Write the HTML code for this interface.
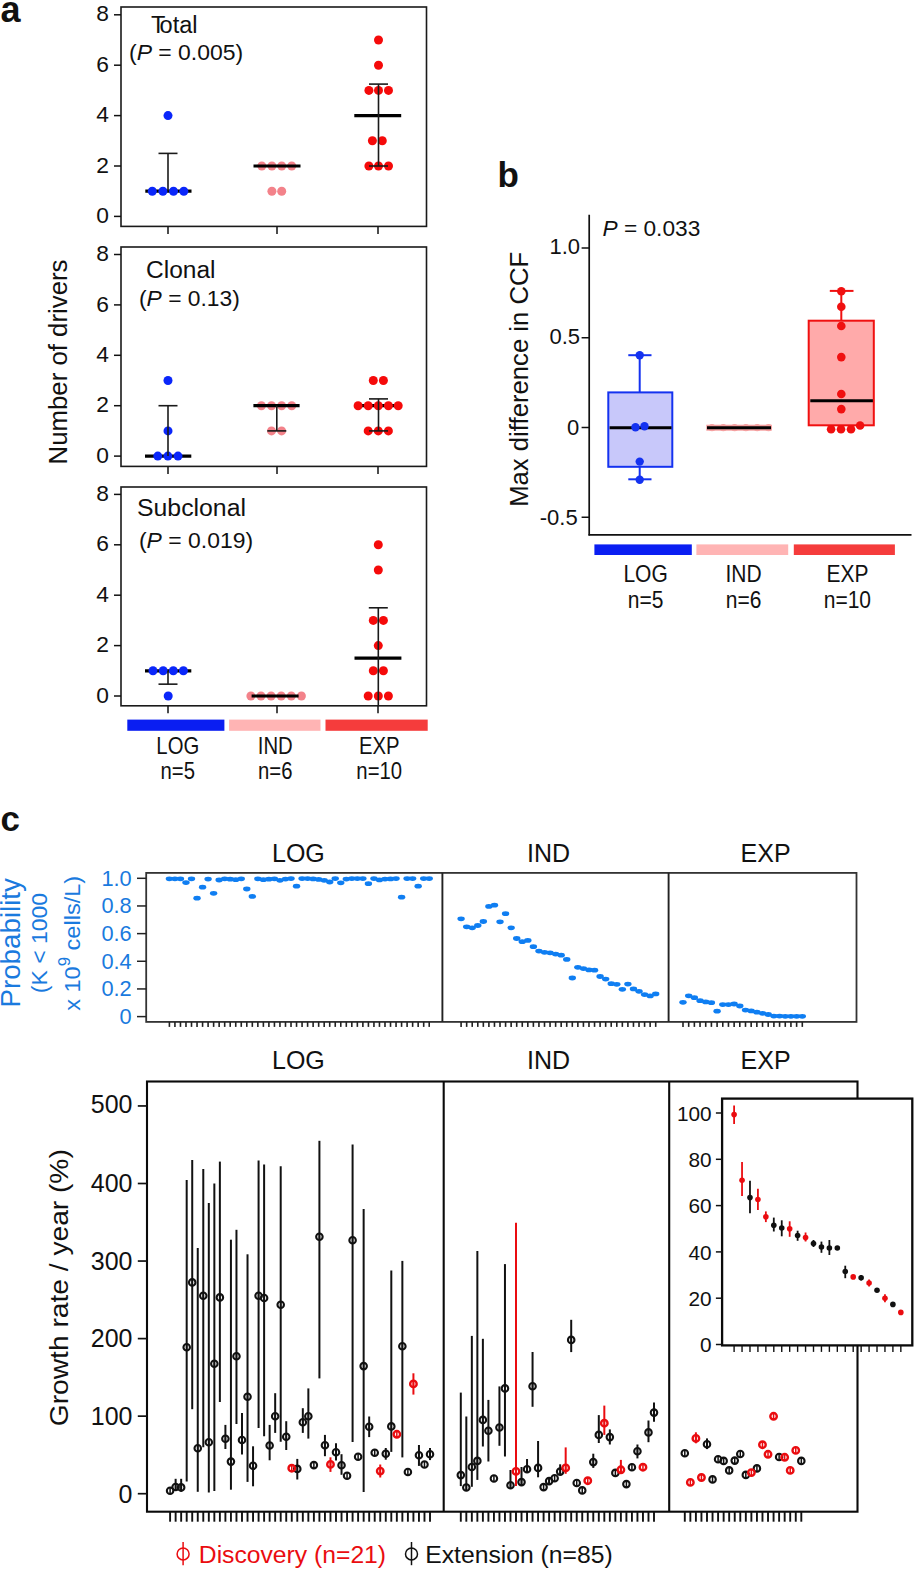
<!DOCTYPE html>
<html><head><meta charset="utf-8"><style>
html,body{margin:0;padding:0;background:#fff;overflow:hidden;width:914px;height:1569px;}
svg{display:block;}
text{font-family:"Liberation Sans", sans-serif;}
</style></head><body>
<svg width="914" height="1569" viewBox="0 0 914 1569">
<rect width="914" height="1569" fill="#fff"/>
<text x="0.5" y="21.5" font-size="36" text-anchor="start" fill="#111" font-weight="bold"  style="">a</text>
<rect x="121" y="7" width="305.5" height="219.4" fill="none" stroke="#1a1a1a" stroke-width="1.6" />
<line x1="114" y1="216.4" x2="121" y2="216.4" stroke="#111" stroke-width="1.5" />
<text x="109" y="223" font-size="22.8" text-anchor="end" fill="#111" font-weight="normal"  style="">0</text>
<line x1="114" y1="166" x2="121" y2="166" stroke="#111" stroke-width="1.5" />
<text x="109" y="172.6" font-size="22.8" text-anchor="end" fill="#111" font-weight="normal"  style="">2</text>
<line x1="114" y1="115.6" x2="121" y2="115.6" stroke="#111" stroke-width="1.5" />
<text x="109" y="122.2" font-size="22.8" text-anchor="end" fill="#111" font-weight="normal"  style="">4</text>
<line x1="114" y1="65.2" x2="121" y2="65.2" stroke="#111" stroke-width="1.5" />
<text x="109" y="71.8" font-size="22.8" text-anchor="end" fill="#111" font-weight="normal"  style="">6</text>
<line x1="114" y1="14.8" x2="121" y2="14.8" stroke="#111" stroke-width="1.5" />
<text x="109" y="21.4" font-size="22.8" text-anchor="end" fill="#111" font-weight="normal"  style="">8</text>
<line x1="168" y1="226.4" x2="168" y2="233.9" stroke="#111" stroke-width="1.5" />
<line x1="277" y1="226.4" x2="277" y2="233.9" stroke="#111" stroke-width="1.5" />
<line x1="378" y1="226.4" x2="378" y2="233.9" stroke="#111" stroke-width="1.5" />
<rect x="121" y="247" width="305.5" height="219.4" fill="none" stroke="#1a1a1a" stroke-width="1.6" />
<line x1="114" y1="456.1" x2="121" y2="456.1" stroke="#111" stroke-width="1.5" />
<text x="109" y="462.7" font-size="22.8" text-anchor="end" fill="#111" font-weight="normal"  style="">0</text>
<line x1="114" y1="405.7" x2="121" y2="405.7" stroke="#111" stroke-width="1.5" />
<text x="109" y="412.3" font-size="22.8" text-anchor="end" fill="#111" font-weight="normal"  style="">2</text>
<line x1="114" y1="355.3" x2="121" y2="355.3" stroke="#111" stroke-width="1.5" />
<text x="109" y="361.9" font-size="22.8" text-anchor="end" fill="#111" font-weight="normal"  style="">4</text>
<line x1="114" y1="304.9" x2="121" y2="304.9" stroke="#111" stroke-width="1.5" />
<text x="109" y="311.5" font-size="22.8" text-anchor="end" fill="#111" font-weight="normal"  style="">6</text>
<line x1="114" y1="254.5" x2="121" y2="254.5" stroke="#111" stroke-width="1.5" />
<text x="109" y="261.1" font-size="22.8" text-anchor="end" fill="#111" font-weight="normal"  style="">8</text>
<line x1="168" y1="466.4" x2="168" y2="473.9" stroke="#111" stroke-width="1.5" />
<line x1="277" y1="466.4" x2="277" y2="473.9" stroke="#111" stroke-width="1.5" />
<line x1="378" y1="466.4" x2="378" y2="473.9" stroke="#111" stroke-width="1.5" />
<rect x="121" y="487" width="305.5" height="218.8" fill="none" stroke="#1a1a1a" stroke-width="1.6" />
<line x1="114" y1="696" x2="121" y2="696" stroke="#111" stroke-width="1.5" />
<text x="109" y="702.6" font-size="22.8" text-anchor="end" fill="#111" font-weight="normal"  style="">0</text>
<line x1="114" y1="645.6" x2="121" y2="645.6" stroke="#111" stroke-width="1.5" />
<text x="109" y="652.2" font-size="22.8" text-anchor="end" fill="#111" font-weight="normal"  style="">2</text>
<line x1="114" y1="595.2" x2="121" y2="595.2" stroke="#111" stroke-width="1.5" />
<text x="109" y="601.8" font-size="22.8" text-anchor="end" fill="#111" font-weight="normal"  style="">4</text>
<line x1="114" y1="544.8" x2="121" y2="544.8" stroke="#111" stroke-width="1.5" />
<text x="109" y="551.4" font-size="22.8" text-anchor="end" fill="#111" font-weight="normal"  style="">6</text>
<line x1="114" y1="494.4" x2="121" y2="494.4" stroke="#111" stroke-width="1.5" />
<text x="109" y="501" font-size="22.8" text-anchor="end" fill="#111" font-weight="normal"  style="">8</text>
<line x1="168" y1="705.8" x2="168" y2="713.3" stroke="#111" stroke-width="1.5" />
<line x1="277" y1="705.8" x2="277" y2="713.3" stroke="#111" stroke-width="1.5" />
<line x1="378" y1="705.8" x2="378" y2="713.3" stroke="#111" stroke-width="1.5" />
<line x1="145.3" y1="191.2" x2="191.5" y2="191.2" stroke="#000" stroke-width="3.2" />
<circle cx="152.3" cy="191.2" r="4.5" fill="#0a26fa" stroke="none" stroke-width="0"/>
<circle cx="162.9" cy="191.2" r="4.5" fill="#0a26fa" stroke="none" stroke-width="0"/>
<circle cx="173.5" cy="191.2" r="4.5" fill="#0a26fa" stroke="none" stroke-width="0"/>
<circle cx="183.8" cy="191.2" r="4.5" fill="#0a26fa" stroke="none" stroke-width="0"/>
<circle cx="168" cy="115.6" r="4.5" fill="#0a26fa" stroke="none" stroke-width="0"/>
<line x1="168" y1="191.2" x2="168" y2="153.4" stroke="#1a1a1a" stroke-width="1.6" />
<line x1="158.5" y1="153.4" x2="177.5" y2="153.4" stroke="#1a1a1a" stroke-width="1.6" />
<circle cx="261.8" cy="166" r="4.5" fill="#f3828a" stroke="none" stroke-width="0"/>
<circle cx="271.9" cy="166" r="4.5" fill="#f3828a" stroke="none" stroke-width="0"/>
<circle cx="281.7" cy="166" r="4.5" fill="#f3828a" stroke="none" stroke-width="0"/>
<circle cx="291.7" cy="166" r="4.5" fill="#f3828a" stroke="none" stroke-width="0"/>
<circle cx="271.9" cy="191.2" r="4.5" fill="#f3828a" stroke="none" stroke-width="0"/>
<circle cx="281.7" cy="191.2" r="4.5" fill="#f3828a" stroke="none" stroke-width="0"/>
<line x1="253.5" y1="166" x2="300.5" y2="166" stroke="#000" stroke-width="3.2" />
<line x1="354.3" y1="115.6" x2="401.2" y2="115.6" stroke="#000" stroke-width="3.2" />
<circle cx="378.5" cy="40" r="4.5" fill="#f50a0a" stroke="none" stroke-width="0"/>
<circle cx="378.5" cy="65.2" r="4.5" fill="#f50a0a" stroke="none" stroke-width="0"/>
<circle cx="368.9" cy="90.4" r="4.5" fill="#f50a0a" stroke="none" stroke-width="0"/>
<circle cx="378.5" cy="90.4" r="4.5" fill="#f50a0a" stroke="none" stroke-width="0"/>
<circle cx="388.5" cy="90.4" r="4.5" fill="#f50a0a" stroke="none" stroke-width="0"/>
<circle cx="372.4" cy="140.8" r="4.5" fill="#f50a0a" stroke="none" stroke-width="0"/>
<circle cx="382.3" cy="140.8" r="4.5" fill="#f50a0a" stroke="none" stroke-width="0"/>
<circle cx="368.9" cy="166" r="4.5" fill="#f50a0a" stroke="none" stroke-width="0"/>
<circle cx="378.5" cy="166" r="4.5" fill="#f50a0a" stroke="none" stroke-width="0"/>
<circle cx="388.5" cy="166" r="4.5" fill="#f50a0a" stroke="none" stroke-width="0"/>
<line x1="378.5" y1="166" x2="378.5" y2="84.1" stroke="#1a1a1a" stroke-width="1.6" />
<line x1="369" y1="84.1" x2="388" y2="84.1" stroke="#1a1a1a" stroke-width="1.6" />
<line x1="369" y1="166" x2="388" y2="166" stroke="#1a1a1a" stroke-width="1.6" />
<line x1="145" y1="456.1" x2="191.3" y2="456.1" stroke="#000" stroke-width="3.2" />
<circle cx="168" cy="380.5" r="4.5" fill="#0a26fa" stroke="none" stroke-width="0"/>
<circle cx="168" cy="430.9" r="4.5" fill="#0a26fa" stroke="none" stroke-width="0"/>
<circle cx="157.8" cy="456.1" r="4.5" fill="#0a26fa" stroke="none" stroke-width="0"/>
<circle cx="167.9" cy="456.1" r="4.5" fill="#0a26fa" stroke="none" stroke-width="0"/>
<circle cx="178" cy="456.1" r="4.5" fill="#0a26fa" stroke="none" stroke-width="0"/>
<line x1="168" y1="456.1" x2="168" y2="405.7" stroke="#1a1a1a" stroke-width="1.6" />
<line x1="158.5" y1="405.7" x2="177.5" y2="405.7" stroke="#1a1a1a" stroke-width="1.6" />
<circle cx="261.4" cy="405.7" r="4.5" fill="#f3828a" stroke="none" stroke-width="0"/>
<circle cx="271.5" cy="405.7" r="4.5" fill="#f3828a" stroke="none" stroke-width="0"/>
<circle cx="281.6" cy="405.7" r="4.5" fill="#f3828a" stroke="none" stroke-width="0"/>
<circle cx="291.7" cy="405.7" r="4.5" fill="#f3828a" stroke="none" stroke-width="0"/>
<circle cx="271.5" cy="430.9" r="4.5" fill="#f3828a" stroke="none" stroke-width="0"/>
<circle cx="281.6" cy="430.9" r="4.5" fill="#f3828a" stroke="none" stroke-width="0"/>
<line x1="253.4" y1="405.7" x2="299.6" y2="405.7" stroke="#000" stroke-width="3.2" />
<line x1="276.8" y1="430.9" x2="276.8" y2="405.7" stroke="#1a1a1a" stroke-width="1.6" />
<line x1="267.3" y1="430.9" x2="286.3" y2="430.9" stroke="#1a1a1a" stroke-width="1.6" />
<line x1="354.5" y1="405.7" x2="401.4" y2="405.7" stroke="#000" stroke-width="3.2" />
<circle cx="373.3" cy="380.5" r="4.5" fill="#f50a0a" stroke="none" stroke-width="0"/>
<circle cx="383.4" cy="380.5" r="4.5" fill="#f50a0a" stroke="none" stroke-width="0"/>
<circle cx="358.1" cy="405.7" r="4.5" fill="#f50a0a" stroke="none" stroke-width="0"/>
<circle cx="368.2" cy="405.7" r="4.5" fill="#f50a0a" stroke="none" stroke-width="0"/>
<circle cx="378.3" cy="405.7" r="4.5" fill="#f50a0a" stroke="none" stroke-width="0"/>
<circle cx="388.4" cy="405.7" r="4.5" fill="#f50a0a" stroke="none" stroke-width="0"/>
<circle cx="398.2" cy="405.7" r="4.5" fill="#f50a0a" stroke="none" stroke-width="0"/>
<circle cx="368.2" cy="430.9" r="4.5" fill="#f50a0a" stroke="none" stroke-width="0"/>
<circle cx="378.3" cy="430.9" r="4.5" fill="#f50a0a" stroke="none" stroke-width="0"/>
<circle cx="388.4" cy="430.9" r="4.5" fill="#f50a0a" stroke="none" stroke-width="0"/>
<line x1="378.5" y1="430.9" x2="378.5" y2="398.9" stroke="#1a1a1a" stroke-width="1.6" />
<line x1="369" y1="398.9" x2="388" y2="398.9" stroke="#1a1a1a" stroke-width="1.6" />
<line x1="369" y1="430.9" x2="388" y2="430.9" stroke="#1a1a1a" stroke-width="1.6" />
<line x1="145" y1="670.8" x2="191.3" y2="670.8" stroke="#000" stroke-width="3.2" />
<circle cx="153" cy="670.8" r="4.5" fill="#0a26fa" stroke="none" stroke-width="0"/>
<circle cx="163.2" cy="670.8" r="4.5" fill="#0a26fa" stroke="none" stroke-width="0"/>
<circle cx="173.3" cy="670.8" r="4.5" fill="#0a26fa" stroke="none" stroke-width="0"/>
<circle cx="183.4" cy="670.8" r="4.5" fill="#0a26fa" stroke="none" stroke-width="0"/>
<circle cx="168.2" cy="696" r="4.5" fill="#0a26fa" stroke="none" stroke-width="0"/>
<line x1="168" y1="684.16" x2="168" y2="670.8" stroke="#1a1a1a" stroke-width="1.6" />
<line x1="158.5" y1="684.16" x2="177.5" y2="684.16" stroke="#1a1a1a" stroke-width="1.6" />
<circle cx="250.9" cy="696" r="4.5" fill="#f3828a" stroke="none" stroke-width="0"/>
<circle cx="261" cy="696" r="4.5" fill="#f3828a" stroke="none" stroke-width="0"/>
<circle cx="271.1" cy="696" r="4.5" fill="#f3828a" stroke="none" stroke-width="0"/>
<circle cx="281.2" cy="696" r="4.5" fill="#f3828a" stroke="none" stroke-width="0"/>
<circle cx="291.3" cy="696" r="4.5" fill="#f3828a" stroke="none" stroke-width="0"/>
<circle cx="301.4" cy="696" r="4.5" fill="#f3828a" stroke="none" stroke-width="0"/>
<line x1="251.6" y1="696" x2="298.6" y2="696" stroke="#000" stroke-width="3.2" />
<line x1="354.5" y1="658.2" x2="401.4" y2="658.2" stroke="#000" stroke-width="3.2" />
<circle cx="378.3" cy="544.8" r="4.5" fill="#f50a0a" stroke="none" stroke-width="0"/>
<circle cx="378.3" cy="570" r="4.5" fill="#f50a0a" stroke="none" stroke-width="0"/>
<circle cx="373.3" cy="620.4" r="4.5" fill="#f50a0a" stroke="none" stroke-width="0"/>
<circle cx="383.4" cy="620.4" r="4.5" fill="#f50a0a" stroke="none" stroke-width="0"/>
<circle cx="378.3" cy="645.6" r="4.5" fill="#f50a0a" stroke="none" stroke-width="0"/>
<circle cx="373.3" cy="670.8" r="4.5" fill="#f50a0a" stroke="none" stroke-width="0"/>
<circle cx="383.4" cy="670.8" r="4.5" fill="#f50a0a" stroke="none" stroke-width="0"/>
<circle cx="368.2" cy="696" r="4.5" fill="#f50a0a" stroke="none" stroke-width="0"/>
<circle cx="378.3" cy="696" r="4.5" fill="#f50a0a" stroke="none" stroke-width="0"/>
<circle cx="388.4" cy="696" r="4.5" fill="#f50a0a" stroke="none" stroke-width="0"/>
<line x1="378.3" y1="705.8" x2="378.3" y2="607.8" stroke="#1a1a1a" stroke-width="1.6" />
<line x1="368.8" y1="607.8" x2="387.8" y2="607.8" stroke="#1a1a1a" stroke-width="1.6" />
<rect x="127.3" y="719.6" width="97.1" height="11.2" fill="#0a1ef2" stroke="none" stroke-width="0" />
<rect x="229.1" y="719.6" width="91.4" height="11.2" fill="#ffb4b4" stroke="none" stroke-width="0" />
<rect x="325.5" y="719.6" width="102.2" height="11.2" fill="#f53c3c" stroke="none" stroke-width="0" />
<text x="177.8" y="753.8" font-size="23.2" text-anchor="middle" fill="#111" font-weight="normal" transform="translate(177.8,0) scale(0.875,1) translate(-177.8,0)" style="">LOG</text>
<text x="177.8" y="779.4" font-size="23.2" text-anchor="middle" fill="#111" font-weight="normal" transform="translate(177.8,0) scale(0.875,1) translate(-177.8,0)" style="">n=5</text>
<text x="275.3" y="753.8" font-size="23.2" text-anchor="middle" fill="#111" font-weight="normal" transform="translate(275.3,0) scale(0.875,1) translate(-275.3,0)" style="">IND</text>
<text x="275.3" y="779.4" font-size="23.2" text-anchor="middle" fill="#111" font-weight="normal" transform="translate(275.3,0) scale(0.875,1) translate(-275.3,0)" style="">n=6</text>
<text x="379.2" y="753.8" font-size="23.2" text-anchor="middle" fill="#111" font-weight="normal" transform="translate(379.2,0) scale(0.875,1) translate(-379.2,0)" style="">EXP</text>
<text x="379.2" y="779.4" font-size="23.2" text-anchor="middle" fill="#111" font-weight="normal" transform="translate(379.2,0) scale(0.875,1) translate(-379.2,0)" style="">n=10</text>
<text x="151" y="33" font-size="23.5" text-anchor="start" fill="#111" font-weight="normal" textLength="46.6" lengthAdjust="spacingAndGlyphs"  style="">T<tspan dx="-3.2">otal</tspan></text>
<text x="129" y="60" font-size="22" text-anchor="start" fill="#111" font-weight="normal" textLength="114.2" lengthAdjust="spacingAndGlyphs"  style="">(<tspan font-style="italic">P</tspan> = 0.005)</text>
<text x="146" y="278" font-size="23" text-anchor="start" fill="#111" font-weight="normal" textLength="69.5" lengthAdjust="spacingAndGlyphs"  style="">Clonal</text>
<text x="139" y="305.5" font-size="22" text-anchor="start" fill="#111" font-weight="normal" textLength="100.8" lengthAdjust="spacingAndGlyphs"  style="">(<tspan font-style="italic">P</tspan> = 0.13)</text>
<text x="137" y="516.3" font-size="23" text-anchor="start" fill="#111" font-weight="normal" textLength="109" lengthAdjust="spacingAndGlyphs"  style="">Subclonal</text>
<text x="139" y="548" font-size="22" text-anchor="start" fill="#111" font-weight="normal" textLength="114.1" lengthAdjust="spacingAndGlyphs"  style="">(<tspan font-style="italic">P</tspan> = 0.019)</text>
<text transform="translate(66.8,362) rotate(-90)" font-size="25.8" text-anchor="middle" fill="#111">Number of drivers</text>
<text x="497.5" y="186.8" font-size="35" text-anchor="start" fill="#111" font-weight="bold"  style="">b</text>
<line x1="589.2" y1="214.7" x2="589.2" y2="535.6" stroke="#111" stroke-width="1.7" />
<line x1="588.5" y1="534.8" x2="911.5" y2="534.8" stroke="#111" stroke-width="1.7" />
<line x1="581.6" y1="248" x2="589.2" y2="248" stroke="#111" stroke-width="1.5" />
<text x="580" y="254.2" font-size="22" text-anchor="end" fill="#111" font-weight="normal"  style="">1.0</text>
<line x1="581.6" y1="337.75" x2="589.2" y2="337.75" stroke="#111" stroke-width="1.5" />
<text x="580" y="344" font-size="22" text-anchor="end" fill="#111" font-weight="normal"  style="">0.5</text>
<line x1="581.6" y1="427.5" x2="589.2" y2="427.5" stroke="#111" stroke-width="1.5" />
<text x="579.3" y="434.5" font-size="22" text-anchor="end" fill="#111" font-weight="normal"  style="">0</text>
<line x1="581.6" y1="517.25" x2="589.2" y2="517.25" stroke="#111" stroke-width="1.5" />
<text x="577.7" y="525.4" font-size="22" text-anchor="end" fill="#111" font-weight="normal"  style="">-0.5</text>
<text x="602.5" y="236" font-size="22.7" text-anchor="start" fill="#111" font-weight="normal"  style=""><tspan font-style="italic">P</tspan> = 0.033</text>
<text transform="translate(527.5,379.3) rotate(-90)" font-size="25.7" text-anchor="middle" fill="#111">Max difference in CCF</text>
<line x1="639.7" y1="392.4" x2="639.7" y2="355.2" stroke="#1432f0" stroke-width="2" />
<line x1="628.3" y1="355.2" x2="651.5" y2="355.2" stroke="#1432f0" stroke-width="2" />
<line x1="639.7" y1="466.8" x2="639.7" y2="479.3" stroke="#1432f0" stroke-width="2" />
<line x1="628.3" y1="479.3" x2="651.5" y2="479.3" stroke="#1432f0" stroke-width="2" />
<rect x="608.3" y="392.4" width="64" height="74.4" fill="#c8c8fa" stroke="#1432f0" stroke-width="2" />
<line x1="609.6" y1="427.7" x2="671.5" y2="427.7" stroke="#000" stroke-width="3" />
<circle cx="639.7" cy="355.2" r="4.2" fill="#1432f0" stroke="none" stroke-width="0"/>
<circle cx="635.5" cy="427.3" r="4.2" fill="#1432f0" stroke="none" stroke-width="0"/>
<circle cx="644.5" cy="426.3" r="4.2" fill="#1432f0" stroke="none" stroke-width="0"/>
<circle cx="639.7" cy="461.6" r="4.2" fill="#1432f0" stroke="none" stroke-width="0"/>
<circle cx="639.7" cy="479.7" r="4.2" fill="#1432f0" stroke="none" stroke-width="0"/>
<circle cx="712" cy="427.7" r="3.6" fill="#f5a0a0" stroke="none" stroke-width="0"/>
<circle cx="723.3" cy="427.7" r="3.6" fill="#f5a0a0" stroke="none" stroke-width="0"/>
<circle cx="734.6" cy="427.7" r="3.6" fill="#f5a0a0" stroke="none" stroke-width="0"/>
<circle cx="745.9" cy="427.7" r="3.6" fill="#f5a0a0" stroke="none" stroke-width="0"/>
<circle cx="757.2" cy="427.7" r="3.6" fill="#f5a0a0" stroke="none" stroke-width="0"/>
<circle cx="768.5" cy="427.7" r="3.6" fill="#f5a0a0" stroke="none" stroke-width="0"/>
<rect x="706.3" y="424.7" width="65.4" height="6" fill="#f5a0a0" stroke="none" stroke-width="0" />
<line x1="707" y1="427.7" x2="771" y2="427.7" stroke="#000" stroke-width="3" />
<line x1="841.3" y1="320.7" x2="841.3" y2="290.9" stroke="#f01010" stroke-width="2" />
<line x1="829.8" y1="290.9" x2="853.5" y2="290.9" stroke="#f01010" stroke-width="2" />
<rect x="808.7" y="320.7" width="65.1" height="104.6" fill="#ffaaaa" stroke="#f01010" stroke-width="2" />
<line x1="810.3" y1="400.7" x2="872.9" y2="400.7" stroke="#000" stroke-width="3" />
<circle cx="841.3" cy="291.2" r="4.3" fill="#f01010" stroke="none" stroke-width="0"/>
<circle cx="841.3" cy="306.8" r="4.3" fill="#f01010" stroke="none" stroke-width="0"/>
<circle cx="841.3" cy="326" r="4.3" fill="#f01010" stroke="none" stroke-width="0"/>
<circle cx="841.3" cy="357.1" r="4.3" fill="#f01010" stroke="none" stroke-width="0"/>
<circle cx="841.3" cy="394" r="4.3" fill="#f01010" stroke="none" stroke-width="0"/>
<circle cx="841.3" cy="409.1" r="4.3" fill="#f01010" stroke="none" stroke-width="0"/>
<circle cx="831.1" cy="429.3" r="4.3" fill="#f01010" stroke="none" stroke-width="0"/>
<circle cx="841" cy="429.3" r="4.3" fill="#f01010" stroke="none" stroke-width="0"/>
<circle cx="851" cy="429.3" r="4.3" fill="#f01010" stroke="none" stroke-width="0"/>
<circle cx="860.1" cy="425.5" r="4.3" fill="#f01010" stroke="none" stroke-width="0"/>
<rect x="594.4" y="544.4" width="97.4" height="10.6" fill="#0a1ef2" stroke="none" stroke-width="0" />
<rect x="696.4" y="544.4" width="91.8" height="10.6" fill="#ffb4b4" stroke="none" stroke-width="0" />
<rect x="793.8" y="544.4" width="101.1" height="10.6" fill="#f53c3c" stroke="none" stroke-width="0" />
<text x="645.6" y="582.3" font-size="24" text-anchor="middle" fill="#111" font-weight="normal" transform="translate(645.6,0) scale(0.875,1) translate(-645.6,0)" style="">LOG</text>
<text x="645.6" y="608.5" font-size="24" text-anchor="middle" fill="#111" font-weight="normal" transform="translate(645.6,0) scale(0.875,1) translate(-645.6,0)" style="">n=5</text>
<text x="743.6" y="582.3" font-size="24" text-anchor="middle" fill="#111" font-weight="normal" transform="translate(743.6,0) scale(0.875,1) translate(-743.6,0)" style="">IND</text>
<text x="743.6" y="608.5" font-size="24" text-anchor="middle" fill="#111" font-weight="normal" transform="translate(743.6,0) scale(0.875,1) translate(-743.6,0)" style="">n=6</text>
<text x="847.4" y="582.3" font-size="24" text-anchor="middle" fill="#111" font-weight="normal" transform="translate(847.4,0) scale(0.875,1) translate(-847.4,0)" style="">EXP</text>
<text x="847.4" y="608.5" font-size="24" text-anchor="middle" fill="#111" font-weight="normal" transform="translate(847.4,0) scale(0.875,1) translate(-847.4,0)" style="">n=10</text>
<text x="0.5" y="830.6" font-size="35" text-anchor="start" fill="#111" font-weight="bold"  style="">c</text>
<rect x="146.2" y="872.9" width="710.3" height="149" fill="none" stroke="#333" stroke-width="1.8" />
<line x1="442.4" y1="872.9" x2="442.4" y2="1021.9" stroke="#222" stroke-width="1.9" />
<line x1="668.6" y1="872.9" x2="668.6" y2="1021.9" stroke="#222" stroke-width="1.9" />
<line x1="137" y1="878.3" x2="146.2" y2="878.3" stroke="#222" stroke-width="1.5" />
<text x="131.7" y="885.6" font-size="21.8" text-anchor="end" fill="#1a7ade" font-weight="normal"  style="">1.0</text>
<line x1="137" y1="905.96" x2="146.2" y2="905.96" stroke="#222" stroke-width="1.5" />
<text x="131.7" y="913.26" font-size="21.8" text-anchor="end" fill="#1a7ade" font-weight="normal"  style="">0.8</text>
<line x1="137" y1="933.62" x2="146.2" y2="933.62" stroke="#222" stroke-width="1.5" />
<text x="131.7" y="940.92" font-size="21.8" text-anchor="end" fill="#1a7ade" font-weight="normal"  style="">0.6</text>
<line x1="137" y1="961.28" x2="146.2" y2="961.28" stroke="#222" stroke-width="1.5" />
<text x="131.7" y="968.58" font-size="21.8" text-anchor="end" fill="#1a7ade" font-weight="normal"  style="">0.4</text>
<line x1="137" y1="988.94" x2="146.2" y2="988.94" stroke="#222" stroke-width="1.5" />
<text x="131.7" y="996.24" font-size="21.8" text-anchor="end" fill="#1a7ade" font-weight="normal"  style="">0.2</text>
<line x1="137" y1="1016.6" x2="146.2" y2="1016.6" stroke="#222" stroke-width="1.5" />
<text x="131.7" y="1023.9" font-size="21.8" text-anchor="end" fill="#1a7ade" font-weight="normal"  style="">0</text>
<text x="298.4" y="861.8" font-size="25" text-anchor="middle" fill="#111" font-weight="normal"  style="">LOG</text>
<text x="548.6" y="861.8" font-size="25" text-anchor="middle" fill="#111" font-weight="normal"  style="">IND</text>
<text x="765.6" y="861.8" font-size="25" text-anchor="middle" fill="#111" font-weight="normal"  style="">EXP</text>
<text transform="translate(20.2,942.8) rotate(-90)" font-size="27.5" text-anchor="middle" fill="#1a7ade" textLength="129.5" lengthAdjust="spacingAndGlyphs">Probability</text>
<text transform="translate(46.8,943) rotate(-90)" font-size="21.5" text-anchor="middle" fill="#1a7ade" textLength="100.3" lengthAdjust="spacingAndGlyphs">(K &lt; 1000</text>
<text transform="translate(79.5,943.3) rotate(-90)" font-size="22.5" text-anchor="middle" fill="#1a7ade" textLength="135" lengthAdjust="spacingAndGlyphs">x 10<tspan font-size="16" dy="-9.6">9</tspan><tspan dy="9.6"> cells/L)</tspan></text>
<ellipse cx="169.4" cy="878.8" rx="3.7" ry="2.4" fill="#0f7ef2"/>
<ellipse cx="174.93" cy="878.8" rx="3.7" ry="2.4" fill="#0f7ef2"/>
<ellipse cx="180.46" cy="878.8" rx="3.7" ry="2.4" fill="#0f7ef2"/>
<ellipse cx="185.98" cy="882.6" rx="3.7" ry="2.4" fill="#0f7ef2"/>
<ellipse cx="191.51" cy="878.8" rx="3.7" ry="2.4" fill="#0f7ef2"/>
<ellipse cx="197.04" cy="898.2" rx="3.7" ry="2.4" fill="#0f7ef2"/>
<ellipse cx="202.57" cy="887.2" rx="3.7" ry="2.4" fill="#0f7ef2"/>
<ellipse cx="208.1" cy="879.1" rx="3.7" ry="2.4" fill="#0f7ef2"/>
<ellipse cx="213.62" cy="893.3" rx="3.7" ry="2.4" fill="#0f7ef2"/>
<ellipse cx="219.15" cy="880" rx="3.7" ry="2.4" fill="#0f7ef2"/>
<ellipse cx="224.68" cy="878.8" rx="3.7" ry="2.4" fill="#0f7ef2"/>
<ellipse cx="230.21" cy="879.2" rx="3.7" ry="2.4" fill="#0f7ef2"/>
<ellipse cx="235.74" cy="879.7" rx="3.7" ry="2.4" fill="#0f7ef2"/>
<ellipse cx="241.26" cy="878.8" rx="3.7" ry="2.4" fill="#0f7ef2"/>
<ellipse cx="246.79" cy="889" rx="3.7" ry="2.4" fill="#0f7ef2"/>
<ellipse cx="252.32" cy="896.4" rx="3.7" ry="2.4" fill="#0f7ef2"/>
<ellipse cx="257.85" cy="878.8" rx="3.7" ry="2.4" fill="#0f7ef2"/>
<ellipse cx="263.38" cy="879.7" rx="3.7" ry="2.4" fill="#0f7ef2"/>
<ellipse cx="268.9" cy="879.2" rx="3.7" ry="2.4" fill="#0f7ef2"/>
<ellipse cx="274.43" cy="878.8" rx="3.7" ry="2.4" fill="#0f7ef2"/>
<ellipse cx="279.96" cy="880.3" rx="3.7" ry="2.4" fill="#0f7ef2"/>
<ellipse cx="285.49" cy="879.1" rx="3.7" ry="2.4" fill="#0f7ef2"/>
<ellipse cx="291.02" cy="878.6" rx="3.7" ry="2.4" fill="#0f7ef2"/>
<ellipse cx="296.54" cy="886.2" rx="3.7" ry="2.4" fill="#0f7ef2"/>
<ellipse cx="302.07" cy="878.6" rx="3.7" ry="2.4" fill="#0f7ef2"/>
<ellipse cx="307.6" cy="878.6" rx="3.7" ry="2.4" fill="#0f7ef2"/>
<ellipse cx="313.13" cy="878.9" rx="3.7" ry="2.4" fill="#0f7ef2"/>
<ellipse cx="318.66" cy="879.4" rx="3.7" ry="2.4" fill="#0f7ef2"/>
<ellipse cx="324.18" cy="880.3" rx="3.7" ry="2.4" fill="#0f7ef2"/>
<ellipse cx="329.71" cy="882" rx="3.7" ry="2.4" fill="#0f7ef2"/>
<ellipse cx="335.24" cy="878.6" rx="3.7" ry="2.4" fill="#0f7ef2"/>
<ellipse cx="340.77" cy="882.8" rx="3.7" ry="2.4" fill="#0f7ef2"/>
<ellipse cx="346.3" cy="879.1" rx="3.7" ry="2.4" fill="#0f7ef2"/>
<ellipse cx="351.82" cy="878.6" rx="3.7" ry="2.4" fill="#0f7ef2"/>
<ellipse cx="357.35" cy="878.6" rx="3.7" ry="2.4" fill="#0f7ef2"/>
<ellipse cx="362.88" cy="878.6" rx="3.7" ry="2.4" fill="#0f7ef2"/>
<ellipse cx="368.41" cy="883.7" rx="3.7" ry="2.4" fill="#0f7ef2"/>
<ellipse cx="373.94" cy="878.6" rx="3.7" ry="2.4" fill="#0f7ef2"/>
<ellipse cx="379.46" cy="879.9" rx="3.7" ry="2.4" fill="#0f7ef2"/>
<ellipse cx="384.99" cy="879.1" rx="3.7" ry="2.4" fill="#0f7ef2"/>
<ellipse cx="390.52" cy="878.9" rx="3.7" ry="2.4" fill="#0f7ef2"/>
<ellipse cx="396.05" cy="878.6" rx="3.7" ry="2.4" fill="#0f7ef2"/>
<ellipse cx="401.58" cy="897.2" rx="3.7" ry="2.4" fill="#0f7ef2"/>
<ellipse cx="407.1" cy="878.6" rx="3.7" ry="2.4" fill="#0f7ef2"/>
<ellipse cx="412.63" cy="878.6" rx="3.7" ry="2.4" fill="#0f7ef2"/>
<ellipse cx="418.16" cy="886.2" rx="3.7" ry="2.4" fill="#0f7ef2"/>
<ellipse cx="423.69" cy="878.6" rx="3.7" ry="2.4" fill="#0f7ef2"/>
<ellipse cx="429.22" cy="878.6" rx="3.7" ry="2.4" fill="#0f7ef2"/>
<line x1="169.4" y1="1021.9" x2="169.4" y2="1026.9" stroke="#222" stroke-width="1.6" />
<line x1="174.93" y1="1021.9" x2="174.93" y2="1026.9" stroke="#222" stroke-width="1.6" />
<line x1="180.46" y1="1021.9" x2="180.46" y2="1026.9" stroke="#222" stroke-width="1.6" />
<line x1="185.98" y1="1021.9" x2="185.98" y2="1026.9" stroke="#222" stroke-width="1.6" />
<line x1="191.51" y1="1021.9" x2="191.51" y2="1026.9" stroke="#222" stroke-width="1.6" />
<line x1="197.04" y1="1021.9" x2="197.04" y2="1026.9" stroke="#222" stroke-width="1.6" />
<line x1="202.57" y1="1021.9" x2="202.57" y2="1026.9" stroke="#222" stroke-width="1.6" />
<line x1="208.1" y1="1021.9" x2="208.1" y2="1026.9" stroke="#222" stroke-width="1.6" />
<line x1="213.62" y1="1021.9" x2="213.62" y2="1026.9" stroke="#222" stroke-width="1.6" />
<line x1="219.15" y1="1021.9" x2="219.15" y2="1026.9" stroke="#222" stroke-width="1.6" />
<line x1="224.68" y1="1021.9" x2="224.68" y2="1026.9" stroke="#222" stroke-width="1.6" />
<line x1="230.21" y1="1021.9" x2="230.21" y2="1026.9" stroke="#222" stroke-width="1.6" />
<line x1="235.74" y1="1021.9" x2="235.74" y2="1026.9" stroke="#222" stroke-width="1.6" />
<line x1="241.26" y1="1021.9" x2="241.26" y2="1026.9" stroke="#222" stroke-width="1.6" />
<line x1="246.79" y1="1021.9" x2="246.79" y2="1026.9" stroke="#222" stroke-width="1.6" />
<line x1="252.32" y1="1021.9" x2="252.32" y2="1026.9" stroke="#222" stroke-width="1.6" />
<line x1="257.85" y1="1021.9" x2="257.85" y2="1026.9" stroke="#222" stroke-width="1.6" />
<line x1="263.38" y1="1021.9" x2="263.38" y2="1026.9" stroke="#222" stroke-width="1.6" />
<line x1="268.9" y1="1021.9" x2="268.9" y2="1026.9" stroke="#222" stroke-width="1.6" />
<line x1="274.43" y1="1021.9" x2="274.43" y2="1026.9" stroke="#222" stroke-width="1.6" />
<line x1="279.96" y1="1021.9" x2="279.96" y2="1026.9" stroke="#222" stroke-width="1.6" />
<line x1="285.49" y1="1021.9" x2="285.49" y2="1026.9" stroke="#222" stroke-width="1.6" />
<line x1="291.02" y1="1021.9" x2="291.02" y2="1026.9" stroke="#222" stroke-width="1.6" />
<line x1="296.54" y1="1021.9" x2="296.54" y2="1026.9" stroke="#222" stroke-width="1.6" />
<line x1="302.07" y1="1021.9" x2="302.07" y2="1026.9" stroke="#222" stroke-width="1.6" />
<line x1="307.6" y1="1021.9" x2="307.6" y2="1026.9" stroke="#222" stroke-width="1.6" />
<line x1="313.13" y1="1021.9" x2="313.13" y2="1026.9" stroke="#222" stroke-width="1.6" />
<line x1="318.66" y1="1021.9" x2="318.66" y2="1026.9" stroke="#222" stroke-width="1.6" />
<line x1="324.18" y1="1021.9" x2="324.18" y2="1026.9" stroke="#222" stroke-width="1.6" />
<line x1="329.71" y1="1021.9" x2="329.71" y2="1026.9" stroke="#222" stroke-width="1.6" />
<line x1="335.24" y1="1021.9" x2="335.24" y2="1026.9" stroke="#222" stroke-width="1.6" />
<line x1="340.77" y1="1021.9" x2="340.77" y2="1026.9" stroke="#222" stroke-width="1.6" />
<line x1="346.3" y1="1021.9" x2="346.3" y2="1026.9" stroke="#222" stroke-width="1.6" />
<line x1="351.82" y1="1021.9" x2="351.82" y2="1026.9" stroke="#222" stroke-width="1.6" />
<line x1="357.35" y1="1021.9" x2="357.35" y2="1026.9" stroke="#222" stroke-width="1.6" />
<line x1="362.88" y1="1021.9" x2="362.88" y2="1026.9" stroke="#222" stroke-width="1.6" />
<line x1="368.41" y1="1021.9" x2="368.41" y2="1026.9" stroke="#222" stroke-width="1.6" />
<line x1="373.94" y1="1021.9" x2="373.94" y2="1026.9" stroke="#222" stroke-width="1.6" />
<line x1="379.46" y1="1021.9" x2="379.46" y2="1026.9" stroke="#222" stroke-width="1.6" />
<line x1="384.99" y1="1021.9" x2="384.99" y2="1026.9" stroke="#222" stroke-width="1.6" />
<line x1="390.52" y1="1021.9" x2="390.52" y2="1026.9" stroke="#222" stroke-width="1.6" />
<line x1="396.05" y1="1021.9" x2="396.05" y2="1026.9" stroke="#222" stroke-width="1.6" />
<line x1="401.58" y1="1021.9" x2="401.58" y2="1026.9" stroke="#222" stroke-width="1.6" />
<line x1="407.1" y1="1021.9" x2="407.1" y2="1026.9" stroke="#222" stroke-width="1.6" />
<line x1="412.63" y1="1021.9" x2="412.63" y2="1026.9" stroke="#222" stroke-width="1.6" />
<line x1="418.16" y1="1021.9" x2="418.16" y2="1026.9" stroke="#222" stroke-width="1.6" />
<line x1="423.69" y1="1021.9" x2="423.69" y2="1026.9" stroke="#222" stroke-width="1.6" />
<line x1="429.22" y1="1021.9" x2="429.22" y2="1026.9" stroke="#222" stroke-width="1.6" />
<ellipse cx="461.1" cy="918.8" rx="3.7" ry="2.4" fill="#0f7ef2"/>
<ellipse cx="466.66" cy="926.8" rx="3.7" ry="2.4" fill="#0f7ef2"/>
<ellipse cx="472.22" cy="927.8" rx="3.7" ry="2.4" fill="#0f7ef2"/>
<ellipse cx="477.78" cy="925.5" rx="3.7" ry="2.4" fill="#0f7ef2"/>
<ellipse cx="483.34" cy="921.5" rx="3.7" ry="2.4" fill="#0f7ef2"/>
<ellipse cx="488.9" cy="906.4" rx="3.7" ry="2.4" fill="#0f7ef2"/>
<ellipse cx="494.46" cy="905.2" rx="3.7" ry="2.4" fill="#0f7ef2"/>
<ellipse cx="500.02" cy="921.8" rx="3.7" ry="2.4" fill="#0f7ef2"/>
<ellipse cx="505.58" cy="913.7" rx="3.7" ry="2.4" fill="#0f7ef2"/>
<ellipse cx="511.14" cy="927.8" rx="3.7" ry="2.4" fill="#0f7ef2"/>
<ellipse cx="516.7" cy="938.5" rx="3.7" ry="2.4" fill="#0f7ef2"/>
<ellipse cx="522.26" cy="941.7" rx="3.7" ry="2.4" fill="#0f7ef2"/>
<ellipse cx="527.82" cy="940.4" rx="3.7" ry="2.4" fill="#0f7ef2"/>
<ellipse cx="533.38" cy="946.7" rx="3.7" ry="2.4" fill="#0f7ef2"/>
<ellipse cx="538.94" cy="951.1" rx="3.7" ry="2.4" fill="#0f7ef2"/>
<ellipse cx="544.5" cy="952.3" rx="3.7" ry="2.4" fill="#0f7ef2"/>
<ellipse cx="550.06" cy="952.8" rx="3.7" ry="2.4" fill="#0f7ef2"/>
<ellipse cx="555.62" cy="954.1" rx="3.7" ry="2.4" fill="#0f7ef2"/>
<ellipse cx="561.18" cy="955.2" rx="3.7" ry="2.4" fill="#0f7ef2"/>
<ellipse cx="566.74" cy="959.4" rx="3.7" ry="2.4" fill="#0f7ef2"/>
<ellipse cx="572.3" cy="978" rx="3.7" ry="2.4" fill="#0f7ef2"/>
<ellipse cx="577.86" cy="967.3" rx="3.7" ry="2.4" fill="#0f7ef2"/>
<ellipse cx="583.42" cy="968.6" rx="3.7" ry="2.4" fill="#0f7ef2"/>
<ellipse cx="588.98" cy="969.9" rx="3.7" ry="2.4" fill="#0f7ef2"/>
<ellipse cx="594.54" cy="970.2" rx="3.7" ry="2.4" fill="#0f7ef2"/>
<ellipse cx="600.1" cy="976.5" rx="3.7" ry="2.4" fill="#0f7ef2"/>
<ellipse cx="605.66" cy="979.1" rx="3.7" ry="2.4" fill="#0f7ef2"/>
<ellipse cx="611.22" cy="983.7" rx="3.7" ry="2.4" fill="#0f7ef2"/>
<ellipse cx="616.78" cy="984.3" rx="3.7" ry="2.4" fill="#0f7ef2"/>
<ellipse cx="622.34" cy="989.3" rx="3.7" ry="2.4" fill="#0f7ef2"/>
<ellipse cx="627.9" cy="984.1" rx="3.7" ry="2.4" fill="#0f7ef2"/>
<ellipse cx="633.46" cy="988.9" rx="3.7" ry="2.4" fill="#0f7ef2"/>
<ellipse cx="639.02" cy="991.3" rx="3.7" ry="2.4" fill="#0f7ef2"/>
<ellipse cx="644.58" cy="994.6" rx="3.7" ry="2.4" fill="#0f7ef2"/>
<ellipse cx="650.14" cy="995.9" rx="3.7" ry="2.4" fill="#0f7ef2"/>
<ellipse cx="655.7" cy="993.9" rx="3.7" ry="2.4" fill="#0f7ef2"/>
<line x1="461.1" y1="1021.9" x2="461.1" y2="1026.9" stroke="#222" stroke-width="1.6" />
<line x1="466.66" y1="1021.9" x2="466.66" y2="1026.9" stroke="#222" stroke-width="1.6" />
<line x1="472.22" y1="1021.9" x2="472.22" y2="1026.9" stroke="#222" stroke-width="1.6" />
<line x1="477.78" y1="1021.9" x2="477.78" y2="1026.9" stroke="#222" stroke-width="1.6" />
<line x1="483.34" y1="1021.9" x2="483.34" y2="1026.9" stroke="#222" stroke-width="1.6" />
<line x1="488.9" y1="1021.9" x2="488.9" y2="1026.9" stroke="#222" stroke-width="1.6" />
<line x1="494.46" y1="1021.9" x2="494.46" y2="1026.9" stroke="#222" stroke-width="1.6" />
<line x1="500.02" y1="1021.9" x2="500.02" y2="1026.9" stroke="#222" stroke-width="1.6" />
<line x1="505.58" y1="1021.9" x2="505.58" y2="1026.9" stroke="#222" stroke-width="1.6" />
<line x1="511.14" y1="1021.9" x2="511.14" y2="1026.9" stroke="#222" stroke-width="1.6" />
<line x1="516.7" y1="1021.9" x2="516.7" y2="1026.9" stroke="#222" stroke-width="1.6" />
<line x1="522.26" y1="1021.9" x2="522.26" y2="1026.9" stroke="#222" stroke-width="1.6" />
<line x1="527.82" y1="1021.9" x2="527.82" y2="1026.9" stroke="#222" stroke-width="1.6" />
<line x1="533.38" y1="1021.9" x2="533.38" y2="1026.9" stroke="#222" stroke-width="1.6" />
<line x1="538.94" y1="1021.9" x2="538.94" y2="1026.9" stroke="#222" stroke-width="1.6" />
<line x1="544.5" y1="1021.9" x2="544.5" y2="1026.9" stroke="#222" stroke-width="1.6" />
<line x1="550.06" y1="1021.9" x2="550.06" y2="1026.9" stroke="#222" stroke-width="1.6" />
<line x1="555.62" y1="1021.9" x2="555.62" y2="1026.9" stroke="#222" stroke-width="1.6" />
<line x1="561.18" y1="1021.9" x2="561.18" y2="1026.9" stroke="#222" stroke-width="1.6" />
<line x1="566.74" y1="1021.9" x2="566.74" y2="1026.9" stroke="#222" stroke-width="1.6" />
<line x1="572.3" y1="1021.9" x2="572.3" y2="1026.9" stroke="#222" stroke-width="1.6" />
<line x1="577.86" y1="1021.9" x2="577.86" y2="1026.9" stroke="#222" stroke-width="1.6" />
<line x1="583.42" y1="1021.9" x2="583.42" y2="1026.9" stroke="#222" stroke-width="1.6" />
<line x1="588.98" y1="1021.9" x2="588.98" y2="1026.9" stroke="#222" stroke-width="1.6" />
<line x1="594.54" y1="1021.9" x2="594.54" y2="1026.9" stroke="#222" stroke-width="1.6" />
<line x1="600.1" y1="1021.9" x2="600.1" y2="1026.9" stroke="#222" stroke-width="1.6" />
<line x1="605.66" y1="1021.9" x2="605.66" y2="1026.9" stroke="#222" stroke-width="1.6" />
<line x1="611.22" y1="1021.9" x2="611.22" y2="1026.9" stroke="#222" stroke-width="1.6" />
<line x1="616.78" y1="1021.9" x2="616.78" y2="1026.9" stroke="#222" stroke-width="1.6" />
<line x1="622.34" y1="1021.9" x2="622.34" y2="1026.9" stroke="#222" stroke-width="1.6" />
<line x1="627.9" y1="1021.9" x2="627.9" y2="1026.9" stroke="#222" stroke-width="1.6" />
<line x1="633.46" y1="1021.9" x2="633.46" y2="1026.9" stroke="#222" stroke-width="1.6" />
<line x1="639.02" y1="1021.9" x2="639.02" y2="1026.9" stroke="#222" stroke-width="1.6" />
<line x1="644.58" y1="1021.9" x2="644.58" y2="1026.9" stroke="#222" stroke-width="1.6" />
<line x1="650.14" y1="1021.9" x2="650.14" y2="1026.9" stroke="#222" stroke-width="1.6" />
<line x1="655.7" y1="1021.9" x2="655.7" y2="1026.9" stroke="#222" stroke-width="1.6" />
<ellipse cx="683" cy="1002.3" rx="3.7" ry="2.4" fill="#0f7ef2"/>
<ellipse cx="688.68" cy="995.8" rx="3.7" ry="2.4" fill="#0f7ef2"/>
<ellipse cx="694.36" cy="997.7" rx="3.7" ry="2.4" fill="#0f7ef2"/>
<ellipse cx="700.04" cy="1000.7" rx="3.7" ry="2.4" fill="#0f7ef2"/>
<ellipse cx="705.72" cy="1001.9" rx="3.7" ry="2.4" fill="#0f7ef2"/>
<ellipse cx="711.4" cy="1002.7" rx="3.7" ry="2.4" fill="#0f7ef2"/>
<ellipse cx="717.09" cy="1011.2" rx="3.7" ry="2.4" fill="#0f7ef2"/>
<ellipse cx="722.77" cy="1004.6" rx="3.7" ry="2.4" fill="#0f7ef2"/>
<ellipse cx="728.45" cy="1004.6" rx="3.7" ry="2.4" fill="#0f7ef2"/>
<ellipse cx="734.13" cy="1004" rx="3.7" ry="2.4" fill="#0f7ef2"/>
<ellipse cx="739.81" cy="1006" rx="3.7" ry="2.4" fill="#0f7ef2"/>
<ellipse cx="745.49" cy="1010.1" rx="3.7" ry="2.4" fill="#0f7ef2"/>
<ellipse cx="751.17" cy="1010.9" rx="3.7" ry="2.4" fill="#0f7ef2"/>
<ellipse cx="756.85" cy="1012.2" rx="3.7" ry="2.4" fill="#0f7ef2"/>
<ellipse cx="762.53" cy="1013.3" rx="3.7" ry="2.4" fill="#0f7ef2"/>
<ellipse cx="768.22" cy="1014.5" rx="3.7" ry="2.4" fill="#0f7ef2"/>
<ellipse cx="773.9" cy="1016.1" rx="3.7" ry="2.4" fill="#0f7ef2"/>
<ellipse cx="779.58" cy="1016.1" rx="3.7" ry="2.4" fill="#0f7ef2"/>
<ellipse cx="785.26" cy="1016.3" rx="3.7" ry="2.4" fill="#0f7ef2"/>
<ellipse cx="790.94" cy="1016.3" rx="3.7" ry="2.4" fill="#0f7ef2"/>
<ellipse cx="796.62" cy="1016.3" rx="3.7" ry="2.4" fill="#0f7ef2"/>
<ellipse cx="802.3" cy="1016.3" rx="3.7" ry="2.4" fill="#0f7ef2"/>
<line x1="683" y1="1021.9" x2="683" y2="1026.9" stroke="#222" stroke-width="1.6" />
<line x1="688.68" y1="1021.9" x2="688.68" y2="1026.9" stroke="#222" stroke-width="1.6" />
<line x1="694.36" y1="1021.9" x2="694.36" y2="1026.9" stroke="#222" stroke-width="1.6" />
<line x1="700.04" y1="1021.9" x2="700.04" y2="1026.9" stroke="#222" stroke-width="1.6" />
<line x1="705.72" y1="1021.9" x2="705.72" y2="1026.9" stroke="#222" stroke-width="1.6" />
<line x1="711.4" y1="1021.9" x2="711.4" y2="1026.9" stroke="#222" stroke-width="1.6" />
<line x1="717.09" y1="1021.9" x2="717.09" y2="1026.9" stroke="#222" stroke-width="1.6" />
<line x1="722.77" y1="1021.9" x2="722.77" y2="1026.9" stroke="#222" stroke-width="1.6" />
<line x1="728.45" y1="1021.9" x2="728.45" y2="1026.9" stroke="#222" stroke-width="1.6" />
<line x1="734.13" y1="1021.9" x2="734.13" y2="1026.9" stroke="#222" stroke-width="1.6" />
<line x1="739.81" y1="1021.9" x2="739.81" y2="1026.9" stroke="#222" stroke-width="1.6" />
<line x1="745.49" y1="1021.9" x2="745.49" y2="1026.9" stroke="#222" stroke-width="1.6" />
<line x1="751.17" y1="1021.9" x2="751.17" y2="1026.9" stroke="#222" stroke-width="1.6" />
<line x1="756.85" y1="1021.9" x2="756.85" y2="1026.9" stroke="#222" stroke-width="1.6" />
<line x1="762.53" y1="1021.9" x2="762.53" y2="1026.9" stroke="#222" stroke-width="1.6" />
<line x1="768.22" y1="1021.9" x2="768.22" y2="1026.9" stroke="#222" stroke-width="1.6" />
<line x1="773.9" y1="1021.9" x2="773.9" y2="1026.9" stroke="#222" stroke-width="1.6" />
<line x1="779.58" y1="1021.9" x2="779.58" y2="1026.9" stroke="#222" stroke-width="1.6" />
<line x1="785.26" y1="1021.9" x2="785.26" y2="1026.9" stroke="#222" stroke-width="1.6" />
<line x1="790.94" y1="1021.9" x2="790.94" y2="1026.9" stroke="#222" stroke-width="1.6" />
<line x1="796.62" y1="1021.9" x2="796.62" y2="1026.9" stroke="#222" stroke-width="1.6" />
<line x1="802.3" y1="1021.9" x2="802.3" y2="1026.9" stroke="#222" stroke-width="1.6" />
<rect x="147" y="1081.5" width="710.5" height="430.2" fill="none" stroke="#0a0a0a" stroke-width="2.1" />
<line x1="443.7" y1="1081.5" x2="443.7" y2="1511.7" stroke="#0a0a0a" stroke-width="2.1" />
<line x1="669.2" y1="1081.5" x2="669.2" y2="1511.7" stroke="#0a0a0a" stroke-width="2.1" />
<line x1="137.8" y1="1493.7" x2="147" y2="1493.7" stroke="#111" stroke-width="1.7" />
<text x="132.5" y="1502.5" font-size="25" text-anchor="end" fill="#111" font-weight="normal"  style="">0</text>
<line x1="137.8" y1="1416.15" x2="147" y2="1416.15" stroke="#111" stroke-width="1.7" />
<text x="132.5" y="1424.95" font-size="25" text-anchor="end" fill="#111" font-weight="normal"  style="">100</text>
<line x1="137.8" y1="1338.6" x2="147" y2="1338.6" stroke="#111" stroke-width="1.7" />
<text x="132.5" y="1347.4" font-size="25" text-anchor="end" fill="#111" font-weight="normal"  style="">200</text>
<line x1="137.8" y1="1261.05" x2="147" y2="1261.05" stroke="#111" stroke-width="1.7" />
<text x="132.5" y="1269.85" font-size="25" text-anchor="end" fill="#111" font-weight="normal"  style="">300</text>
<line x1="137.8" y1="1183.5" x2="147" y2="1183.5" stroke="#111" stroke-width="1.7" />
<text x="132.5" y="1192.3" font-size="25" text-anchor="end" fill="#111" font-weight="normal"  style="">400</text>
<line x1="137.8" y1="1105.95" x2="147" y2="1105.95" stroke="#111" stroke-width="1.7" />
<text x="132.5" y="1112.55" font-size="25" text-anchor="end" fill="#111" font-weight="normal"  style="">500</text>
<text x="298.4" y="1068.6" font-size="25" text-anchor="middle" fill="#111" font-weight="normal"  style="">LOG</text>
<text x="548.6" y="1068.6" font-size="25" text-anchor="middle" fill="#111" font-weight="normal"  style="">IND</text>
<text x="765.6" y="1068.6" font-size="25" text-anchor="middle" fill="#111" font-weight="normal"  style="">EXP</text>
<text transform="translate(67.8,1287.7) rotate(-90)" font-size="25.5" text-anchor="middle" fill="#111" textLength="277" lengthAdjust="spacingAndGlyphs">Growth rate / year (%)</text>
<line x1="170.1" y1="1511.7" x2="170.1" y2="1521.7" stroke="#111" stroke-width="1.9" />
<line x1="175.63" y1="1511.7" x2="175.63" y2="1521.7" stroke="#111" stroke-width="1.9" />
<line x1="181.16" y1="1511.7" x2="181.16" y2="1521.7" stroke="#111" stroke-width="1.9" />
<line x1="186.69" y1="1511.7" x2="186.69" y2="1521.7" stroke="#111" stroke-width="1.9" />
<line x1="192.22" y1="1511.7" x2="192.22" y2="1521.7" stroke="#111" stroke-width="1.9" />
<line x1="197.75" y1="1511.7" x2="197.75" y2="1521.7" stroke="#111" stroke-width="1.9" />
<line x1="203.28" y1="1511.7" x2="203.28" y2="1521.7" stroke="#111" stroke-width="1.9" />
<line x1="208.81" y1="1511.7" x2="208.81" y2="1521.7" stroke="#111" stroke-width="1.9" />
<line x1="214.34" y1="1511.7" x2="214.34" y2="1521.7" stroke="#111" stroke-width="1.9" />
<line x1="219.87" y1="1511.7" x2="219.87" y2="1521.7" stroke="#111" stroke-width="1.9" />
<line x1="225.4" y1="1511.7" x2="225.4" y2="1521.7" stroke="#111" stroke-width="1.9" />
<line x1="230.93" y1="1511.7" x2="230.93" y2="1521.7" stroke="#111" stroke-width="1.9" />
<line x1="236.46" y1="1511.7" x2="236.46" y2="1521.7" stroke="#111" stroke-width="1.9" />
<line x1="241.99" y1="1511.7" x2="241.99" y2="1521.7" stroke="#111" stroke-width="1.9" />
<line x1="247.52" y1="1511.7" x2="247.52" y2="1521.7" stroke="#111" stroke-width="1.9" />
<line x1="253.05" y1="1511.7" x2="253.05" y2="1521.7" stroke="#111" stroke-width="1.9" />
<line x1="258.58" y1="1511.7" x2="258.58" y2="1521.7" stroke="#111" stroke-width="1.9" />
<line x1="264.11" y1="1511.7" x2="264.11" y2="1521.7" stroke="#111" stroke-width="1.9" />
<line x1="269.64" y1="1511.7" x2="269.64" y2="1521.7" stroke="#111" stroke-width="1.9" />
<line x1="275.17" y1="1511.7" x2="275.17" y2="1521.7" stroke="#111" stroke-width="1.9" />
<line x1="280.7" y1="1511.7" x2="280.7" y2="1521.7" stroke="#111" stroke-width="1.9" />
<line x1="286.23" y1="1511.7" x2="286.23" y2="1521.7" stroke="#111" stroke-width="1.9" />
<line x1="291.76" y1="1511.7" x2="291.76" y2="1521.7" stroke="#111" stroke-width="1.9" />
<line x1="297.29" y1="1511.7" x2="297.29" y2="1521.7" stroke="#111" stroke-width="1.9" />
<line x1="302.82" y1="1511.7" x2="302.82" y2="1521.7" stroke="#111" stroke-width="1.9" />
<line x1="308.35" y1="1511.7" x2="308.35" y2="1521.7" stroke="#111" stroke-width="1.9" />
<line x1="313.88" y1="1511.7" x2="313.88" y2="1521.7" stroke="#111" stroke-width="1.9" />
<line x1="319.41" y1="1511.7" x2="319.41" y2="1521.7" stroke="#111" stroke-width="1.9" />
<line x1="324.94" y1="1511.7" x2="324.94" y2="1521.7" stroke="#111" stroke-width="1.9" />
<line x1="330.47" y1="1511.7" x2="330.47" y2="1521.7" stroke="#111" stroke-width="1.9" />
<line x1="336" y1="1511.7" x2="336" y2="1521.7" stroke="#111" stroke-width="1.9" />
<line x1="341.53" y1="1511.7" x2="341.53" y2="1521.7" stroke="#111" stroke-width="1.9" />
<line x1="347.06" y1="1511.7" x2="347.06" y2="1521.7" stroke="#111" stroke-width="1.9" />
<line x1="352.59" y1="1511.7" x2="352.59" y2="1521.7" stroke="#111" stroke-width="1.9" />
<line x1="358.12" y1="1511.7" x2="358.12" y2="1521.7" stroke="#111" stroke-width="1.9" />
<line x1="363.65" y1="1511.7" x2="363.65" y2="1521.7" stroke="#111" stroke-width="1.9" />
<line x1="369.18" y1="1511.7" x2="369.18" y2="1521.7" stroke="#111" stroke-width="1.9" />
<line x1="374.71" y1="1511.7" x2="374.71" y2="1521.7" stroke="#111" stroke-width="1.9" />
<line x1="380.24" y1="1511.7" x2="380.24" y2="1521.7" stroke="#111" stroke-width="1.9" />
<line x1="385.77" y1="1511.7" x2="385.77" y2="1521.7" stroke="#111" stroke-width="1.9" />
<line x1="391.3" y1="1511.7" x2="391.3" y2="1521.7" stroke="#111" stroke-width="1.9" />
<line x1="396.83" y1="1511.7" x2="396.83" y2="1521.7" stroke="#111" stroke-width="1.9" />
<line x1="402.36" y1="1511.7" x2="402.36" y2="1521.7" stroke="#111" stroke-width="1.9" />
<line x1="407.89" y1="1511.7" x2="407.89" y2="1521.7" stroke="#111" stroke-width="1.9" />
<line x1="413.42" y1="1511.7" x2="413.42" y2="1521.7" stroke="#111" stroke-width="1.9" />
<line x1="418.95" y1="1511.7" x2="418.95" y2="1521.7" stroke="#111" stroke-width="1.9" />
<line x1="424.48" y1="1511.7" x2="424.48" y2="1521.7" stroke="#111" stroke-width="1.9" />
<line x1="430.01" y1="1511.7" x2="430.01" y2="1521.7" stroke="#111" stroke-width="1.9" />
<line x1="460.8" y1="1511.7" x2="460.8" y2="1521.7" stroke="#111" stroke-width="1.9" />
<line x1="466.32" y1="1511.7" x2="466.32" y2="1521.7" stroke="#111" stroke-width="1.9" />
<line x1="471.84" y1="1511.7" x2="471.84" y2="1521.7" stroke="#111" stroke-width="1.9" />
<line x1="477.36" y1="1511.7" x2="477.36" y2="1521.7" stroke="#111" stroke-width="1.9" />
<line x1="482.88" y1="1511.7" x2="482.88" y2="1521.7" stroke="#111" stroke-width="1.9" />
<line x1="488.4" y1="1511.7" x2="488.4" y2="1521.7" stroke="#111" stroke-width="1.9" />
<line x1="493.92" y1="1511.7" x2="493.92" y2="1521.7" stroke="#111" stroke-width="1.9" />
<line x1="499.44" y1="1511.7" x2="499.44" y2="1521.7" stroke="#111" stroke-width="1.9" />
<line x1="504.96" y1="1511.7" x2="504.96" y2="1521.7" stroke="#111" stroke-width="1.9" />
<line x1="510.48" y1="1511.7" x2="510.48" y2="1521.7" stroke="#111" stroke-width="1.9" />
<line x1="516" y1="1511.7" x2="516" y2="1521.7" stroke="#111" stroke-width="1.9" />
<line x1="521.52" y1="1511.7" x2="521.52" y2="1521.7" stroke="#111" stroke-width="1.9" />
<line x1="527.04" y1="1511.7" x2="527.04" y2="1521.7" stroke="#111" stroke-width="1.9" />
<line x1="532.56" y1="1511.7" x2="532.56" y2="1521.7" stroke="#111" stroke-width="1.9" />
<line x1="538.08" y1="1511.7" x2="538.08" y2="1521.7" stroke="#111" stroke-width="1.9" />
<line x1="543.6" y1="1511.7" x2="543.6" y2="1521.7" stroke="#111" stroke-width="1.9" />
<line x1="549.12" y1="1511.7" x2="549.12" y2="1521.7" stroke="#111" stroke-width="1.9" />
<line x1="554.64" y1="1511.7" x2="554.64" y2="1521.7" stroke="#111" stroke-width="1.9" />
<line x1="560.16" y1="1511.7" x2="560.16" y2="1521.7" stroke="#111" stroke-width="1.9" />
<line x1="565.68" y1="1511.7" x2="565.68" y2="1521.7" stroke="#111" stroke-width="1.9" />
<line x1="571.2" y1="1511.7" x2="571.2" y2="1521.7" stroke="#111" stroke-width="1.9" />
<line x1="576.72" y1="1511.7" x2="576.72" y2="1521.7" stroke="#111" stroke-width="1.9" />
<line x1="582.24" y1="1511.7" x2="582.24" y2="1521.7" stroke="#111" stroke-width="1.9" />
<line x1="587.76" y1="1511.7" x2="587.76" y2="1521.7" stroke="#111" stroke-width="1.9" />
<line x1="593.28" y1="1511.7" x2="593.28" y2="1521.7" stroke="#111" stroke-width="1.9" />
<line x1="598.8" y1="1511.7" x2="598.8" y2="1521.7" stroke="#111" stroke-width="1.9" />
<line x1="604.32" y1="1511.7" x2="604.32" y2="1521.7" stroke="#111" stroke-width="1.9" />
<line x1="609.84" y1="1511.7" x2="609.84" y2="1521.7" stroke="#111" stroke-width="1.9" />
<line x1="615.36" y1="1511.7" x2="615.36" y2="1521.7" stroke="#111" stroke-width="1.9" />
<line x1="620.88" y1="1511.7" x2="620.88" y2="1521.7" stroke="#111" stroke-width="1.9" />
<line x1="626.4" y1="1511.7" x2="626.4" y2="1521.7" stroke="#111" stroke-width="1.9" />
<line x1="631.92" y1="1511.7" x2="631.92" y2="1521.7" stroke="#111" stroke-width="1.9" />
<line x1="637.44" y1="1511.7" x2="637.44" y2="1521.7" stroke="#111" stroke-width="1.9" />
<line x1="642.96" y1="1511.7" x2="642.96" y2="1521.7" stroke="#111" stroke-width="1.9" />
<line x1="648.48" y1="1511.7" x2="648.48" y2="1521.7" stroke="#111" stroke-width="1.9" />
<line x1="654" y1="1511.7" x2="654" y2="1521.7" stroke="#111" stroke-width="1.9" />
<line x1="684.8" y1="1511.7" x2="684.8" y2="1521.7" stroke="#111" stroke-width="1.9" />
<line x1="690.35" y1="1511.7" x2="690.35" y2="1521.7" stroke="#111" stroke-width="1.9" />
<line x1="695.9" y1="1511.7" x2="695.9" y2="1521.7" stroke="#111" stroke-width="1.9" />
<line x1="701.44" y1="1511.7" x2="701.44" y2="1521.7" stroke="#111" stroke-width="1.9" />
<line x1="706.99" y1="1511.7" x2="706.99" y2="1521.7" stroke="#111" stroke-width="1.9" />
<line x1="712.54" y1="1511.7" x2="712.54" y2="1521.7" stroke="#111" stroke-width="1.9" />
<line x1="718.09" y1="1511.7" x2="718.09" y2="1521.7" stroke="#111" stroke-width="1.9" />
<line x1="723.64" y1="1511.7" x2="723.64" y2="1521.7" stroke="#111" stroke-width="1.9" />
<line x1="729.18" y1="1511.7" x2="729.18" y2="1521.7" stroke="#111" stroke-width="1.9" />
<line x1="734.73" y1="1511.7" x2="734.73" y2="1521.7" stroke="#111" stroke-width="1.9" />
<line x1="740.28" y1="1511.7" x2="740.28" y2="1521.7" stroke="#111" stroke-width="1.9" />
<line x1="745.83" y1="1511.7" x2="745.83" y2="1521.7" stroke="#111" stroke-width="1.9" />
<line x1="751.38" y1="1511.7" x2="751.38" y2="1521.7" stroke="#111" stroke-width="1.9" />
<line x1="756.92" y1="1511.7" x2="756.92" y2="1521.7" stroke="#111" stroke-width="1.9" />
<line x1="762.47" y1="1511.7" x2="762.47" y2="1521.7" stroke="#111" stroke-width="1.9" />
<line x1="768.02" y1="1511.7" x2="768.02" y2="1521.7" stroke="#111" stroke-width="1.9" />
<line x1="773.57" y1="1511.7" x2="773.57" y2="1521.7" stroke="#111" stroke-width="1.9" />
<line x1="779.12" y1="1511.7" x2="779.12" y2="1521.7" stroke="#111" stroke-width="1.9" />
<line x1="784.66" y1="1511.7" x2="784.66" y2="1521.7" stroke="#111" stroke-width="1.9" />
<line x1="790.21" y1="1511.7" x2="790.21" y2="1521.7" stroke="#111" stroke-width="1.9" />
<line x1="795.76" y1="1511.7" x2="795.76" y2="1521.7" stroke="#111" stroke-width="1.9" />
<line x1="801.31" y1="1511.7" x2="801.31" y2="1521.7" stroke="#111" stroke-width="1.9" />
<circle cx="170.1" cy="1490.8" r="3.25" fill="none" stroke="#111" stroke-width="2.1"/>
<line x1="170.1" y1="1487.6" x2="170.1" y2="1494" stroke="#111" stroke-width="1.5" />
<line x1="175.63" y1="1478.8" x2="175.63" y2="1491" stroke="#111" stroke-width="2.0" />
<circle cx="175.63" cy="1487" r="3.25" fill="none" stroke="#111" stroke-width="2.1"/>
<line x1="175.63" y1="1483.8" x2="175.63" y2="1490.2" stroke="#111" stroke-width="1.5" />
<line x1="181.16" y1="1478.8" x2="181.16" y2="1491.8" stroke="#111" stroke-width="2.0" />
<circle cx="181.16" cy="1487.4" r="3.25" fill="none" stroke="#111" stroke-width="2.1"/>
<line x1="181.16" y1="1484.2" x2="181.16" y2="1490.6" stroke="#111" stroke-width="1.5" />
<line x1="186.69" y1="1180.1" x2="186.69" y2="1481.5" stroke="#111" stroke-width="2.0" />
<circle cx="186.69" cy="1347.3" r="3.25" fill="none" stroke="#111" stroke-width="2.1"/>
<line x1="186.69" y1="1344.1" x2="186.69" y2="1350.5" stroke="#111" stroke-width="1.5" />
<line x1="192.22" y1="1160" x2="192.22" y2="1409.2" stroke="#111" stroke-width="2.0" />
<circle cx="192.22" cy="1282.4" r="3.25" fill="none" stroke="#111" stroke-width="2.1"/>
<line x1="192.22" y1="1279.2" x2="192.22" y2="1285.6" stroke="#111" stroke-width="1.5" />
<line x1="197.75" y1="1248" x2="197.75" y2="1491.8" stroke="#111" stroke-width="2.0" />
<circle cx="197.75" cy="1448.2" r="3.25" fill="none" stroke="#111" stroke-width="2.1"/>
<line x1="197.75" y1="1445" x2="197.75" y2="1451.4" stroke="#111" stroke-width="1.5" />
<line x1="203.28" y1="1168.9" x2="203.28" y2="1447.3" stroke="#111" stroke-width="2.0" />
<circle cx="203.28" cy="1295.8" r="3.25" fill="none" stroke="#111" stroke-width="2.1"/>
<line x1="203.28" y1="1292.6" x2="203.28" y2="1299" stroke="#111" stroke-width="1.5" />
<line x1="208.81" y1="1203.1" x2="208.81" y2="1492.5" stroke="#111" stroke-width="2.0" />
<circle cx="208.81" cy="1442.2" r="3.25" fill="none" stroke="#111" stroke-width="2.1"/>
<line x1="208.81" y1="1439" x2="208.81" y2="1445.4" stroke="#111" stroke-width="1.5" />
<line x1="214.34" y1="1183.5" x2="214.34" y2="1491.1" stroke="#111" stroke-width="2.0" />
<circle cx="214.34" cy="1363.7" r="3.25" fill="none" stroke="#111" stroke-width="2.1"/>
<line x1="214.34" y1="1360.5" x2="214.34" y2="1366.9" stroke="#111" stroke-width="1.5" />
<line x1="219.87" y1="1161.6" x2="219.87" y2="1402" stroke="#111" stroke-width="2.0" />
<circle cx="219.87" cy="1297.4" r="3.25" fill="none" stroke="#111" stroke-width="2.1"/>
<line x1="219.87" y1="1294.2" x2="219.87" y2="1300.6" stroke="#111" stroke-width="1.5" />
<line x1="225.4" y1="1424.9" x2="225.4" y2="1449" stroke="#111" stroke-width="2.0" />
<circle cx="225.4" cy="1438.8" r="3.25" fill="none" stroke="#111" stroke-width="2.1"/>
<line x1="225.4" y1="1435.6" x2="225.4" y2="1442" stroke="#111" stroke-width="1.5" />
<line x1="230.93" y1="1239.7" x2="230.93" y2="1489.7" stroke="#111" stroke-width="2.0" />
<circle cx="230.93" cy="1461.6" r="3.25" fill="none" stroke="#111" stroke-width="2.1"/>
<line x1="230.93" y1="1458.4" x2="230.93" y2="1464.8" stroke="#111" stroke-width="1.5" />
<line x1="236.46" y1="1229.8" x2="236.46" y2="1424" stroke="#111" stroke-width="2.0" />
<circle cx="236.46" cy="1356.2" r="3.25" fill="none" stroke="#111" stroke-width="2.1"/>
<line x1="236.46" y1="1353" x2="236.46" y2="1359.4" stroke="#111" stroke-width="1.5" />
<line x1="241.99" y1="1413" x2="241.99" y2="1454.5" stroke="#111" stroke-width="2.0" />
<circle cx="241.99" cy="1440" r="3.25" fill="none" stroke="#111" stroke-width="2.1"/>
<line x1="241.99" y1="1436.8" x2="241.99" y2="1443.2" stroke="#111" stroke-width="1.5" />
<line x1="247.52" y1="1254.3" x2="247.52" y2="1481.9" stroke="#111" stroke-width="2.0" />
<circle cx="247.52" cy="1396.8" r="3.25" fill="none" stroke="#111" stroke-width="2.1"/>
<line x1="247.52" y1="1393.6" x2="247.52" y2="1400" stroke="#111" stroke-width="1.5" />
<line x1="253.05" y1="1446.3" x2="253.05" y2="1486.3" stroke="#111" stroke-width="2.0" />
<circle cx="253.05" cy="1465.8" r="3.25" fill="none" stroke="#111" stroke-width="2.1"/>
<line x1="253.05" y1="1462.6" x2="253.05" y2="1469" stroke="#111" stroke-width="1.5" />
<line x1="258.58" y1="1160.6" x2="258.58" y2="1428.1" stroke="#111" stroke-width="2.0" />
<circle cx="258.58" cy="1295.8" r="3.25" fill="none" stroke="#111" stroke-width="2.1"/>
<line x1="258.58" y1="1292.6" x2="258.58" y2="1299" stroke="#111" stroke-width="1.5" />
<line x1="264.11" y1="1164.4" x2="264.11" y2="1436.3" stroke="#111" stroke-width="2.0" />
<circle cx="264.11" cy="1298" r="3.25" fill="none" stroke="#111" stroke-width="2.1"/>
<line x1="264.11" y1="1294.8" x2="264.11" y2="1301.2" stroke="#111" stroke-width="1.5" />
<line x1="269.64" y1="1424.9" x2="269.64" y2="1460.3" stroke="#111" stroke-width="2.0" />
<circle cx="269.64" cy="1445.5" r="3.25" fill="none" stroke="#111" stroke-width="2.1"/>
<line x1="269.64" y1="1442.3" x2="269.64" y2="1448.7" stroke="#111" stroke-width="1.5" />
<line x1="275.17" y1="1393.2" x2="275.17" y2="1432.9" stroke="#111" stroke-width="2.0" />
<circle cx="275.17" cy="1416.2" r="3.25" fill="none" stroke="#111" stroke-width="2.1"/>
<line x1="275.17" y1="1413" x2="275.17" y2="1419.4" stroke="#111" stroke-width="1.5" />
<line x1="280.7" y1="1166.3" x2="280.7" y2="1441.8" stroke="#111" stroke-width="2.0" />
<circle cx="280.7" cy="1304.8" r="3.25" fill="none" stroke="#111" stroke-width="2.1"/>
<line x1="280.7" y1="1301.6" x2="280.7" y2="1308" stroke="#111" stroke-width="1.5" />
<line x1="286.23" y1="1421.2" x2="286.23" y2="1450" stroke="#111" stroke-width="2.0" />
<circle cx="286.23" cy="1436.7" r="3.25" fill="none" stroke="#111" stroke-width="2.1"/>
<line x1="286.23" y1="1433.5" x2="286.23" y2="1439.9" stroke="#111" stroke-width="1.5" />
<line x1="297.29" y1="1458.9" x2="297.29" y2="1479.5" stroke="#111" stroke-width="2.0" />
<circle cx="297.29" cy="1468.9" r="3.25" fill="none" stroke="#111" stroke-width="2.1"/>
<line x1="297.29" y1="1465.7" x2="297.29" y2="1472.1" stroke="#111" stroke-width="1.5" />
<line x1="302.82" y1="1408.2" x2="302.82" y2="1432.9" stroke="#111" stroke-width="2.0" />
<circle cx="302.82" cy="1422.3" r="3.25" fill="none" stroke="#111" stroke-width="2.1"/>
<line x1="302.82" y1="1419.1" x2="302.82" y2="1425.5" stroke="#111" stroke-width="1.5" />
<line x1="308.35" y1="1388.4" x2="308.35" y2="1438.6" stroke="#111" stroke-width="2.0" />
<circle cx="308.35" cy="1416.2" r="3.25" fill="none" stroke="#111" stroke-width="2.1"/>
<line x1="308.35" y1="1413" x2="308.35" y2="1419.4" stroke="#111" stroke-width="1.5" />
<circle cx="313.88" cy="1465.1" r="3.25" fill="none" stroke="#111" stroke-width="2.1"/>
<line x1="313.88" y1="1461.9" x2="313.88" y2="1468.3" stroke="#111" stroke-width="1.5" />
<line x1="319.41" y1="1140.8" x2="319.41" y2="1378.4" stroke="#111" stroke-width="2.0" />
<circle cx="319.41" cy="1236.7" r="3.25" fill="none" stroke="#111" stroke-width="2.1"/>
<line x1="319.41" y1="1233.5" x2="319.41" y2="1239.9" stroke="#111" stroke-width="1.5" />
<line x1="324.94" y1="1434.9" x2="324.94" y2="1456.2" stroke="#111" stroke-width="2.0" />
<circle cx="324.94" cy="1445.2" r="3.25" fill="none" stroke="#111" stroke-width="2.1"/>
<line x1="324.94" y1="1442" x2="324.94" y2="1448.4" stroke="#111" stroke-width="1.5" />
<line x1="336" y1="1443.2" x2="336" y2="1460.5" stroke="#111" stroke-width="2.0" />
<circle cx="336" cy="1452.3" r="3.25" fill="none" stroke="#111" stroke-width="2.1"/>
<line x1="336" y1="1449.1" x2="336" y2="1455.5" stroke="#111" stroke-width="1.5" />
<line x1="341.53" y1="1454.2" x2="341.53" y2="1474.8" stroke="#111" stroke-width="2.0" />
<circle cx="341.53" cy="1465.3" r="3.25" fill="none" stroke="#111" stroke-width="2.1"/>
<line x1="341.53" y1="1462.1" x2="341.53" y2="1468.5" stroke="#111" stroke-width="1.5" />
<circle cx="347.06" cy="1475.8" r="3.25" fill="none" stroke="#111" stroke-width="2.1"/>
<line x1="347.06" y1="1472.6" x2="347.06" y2="1479" stroke="#111" stroke-width="1.5" />
<line x1="352.59" y1="1144.6" x2="352.59" y2="1441.9" stroke="#111" stroke-width="2.0" />
<circle cx="352.59" cy="1240.2" r="3.25" fill="none" stroke="#111" stroke-width="2.1"/>
<line x1="352.59" y1="1237" x2="352.59" y2="1243.4" stroke="#111" stroke-width="1.5" />
<circle cx="358.12" cy="1456.7" r="3.25" fill="none" stroke="#111" stroke-width="2.1"/>
<line x1="358.12" y1="1453.5" x2="358.12" y2="1459.9" stroke="#111" stroke-width="1.5" />
<line x1="363.65" y1="1208.9" x2="363.65" y2="1491.9" stroke="#111" stroke-width="2.0" />
<circle cx="363.65" cy="1366.1" r="3.25" fill="none" stroke="#111" stroke-width="2.1"/>
<line x1="363.65" y1="1362.9" x2="363.65" y2="1369.3" stroke="#111" stroke-width="1.5" />
<line x1="369.18" y1="1416.5" x2="369.18" y2="1437.1" stroke="#111" stroke-width="2.0" />
<circle cx="369.18" cy="1426.8" r="3.25" fill="none" stroke="#111" stroke-width="2.1"/>
<line x1="369.18" y1="1423.6" x2="369.18" y2="1430" stroke="#111" stroke-width="1.5" />
<circle cx="374.71" cy="1452.8" r="3.25" fill="none" stroke="#111" stroke-width="2.1"/>
<line x1="374.71" y1="1449.6" x2="374.71" y2="1456" stroke="#111" stroke-width="1.5" />
<line x1="385.77" y1="1448" x2="385.77" y2="1459.7" stroke="#111" stroke-width="2.0" />
<circle cx="385.77" cy="1453.8" r="3.25" fill="none" stroke="#111" stroke-width="2.1"/>
<line x1="385.77" y1="1450.6" x2="385.77" y2="1457" stroke="#111" stroke-width="1.5" />
<line x1="391.3" y1="1270.5" x2="391.3" y2="1451.9" stroke="#111" stroke-width="2.0" />
<circle cx="391.3" cy="1426.4" r="3.25" fill="none" stroke="#111" stroke-width="2.1"/>
<line x1="391.3" y1="1423.2" x2="391.3" y2="1429.6" stroke="#111" stroke-width="1.5" />
<line x1="402.36" y1="1260.9" x2="402.36" y2="1457.4" stroke="#111" stroke-width="2.0" />
<circle cx="402.36" cy="1346.3" r="3.25" fill="none" stroke="#111" stroke-width="2.1"/>
<line x1="402.36" y1="1343.1" x2="402.36" y2="1349.5" stroke="#111" stroke-width="1.5" />
<circle cx="407.89" cy="1472" r="3.25" fill="none" stroke="#111" stroke-width="2.1"/>
<line x1="407.89" y1="1468.8" x2="407.89" y2="1475.2" stroke="#111" stroke-width="1.5" />
<line x1="418.95" y1="1445" x2="418.95" y2="1465.9" stroke="#111" stroke-width="2.0" />
<circle cx="418.95" cy="1455.3" r="3.25" fill="none" stroke="#111" stroke-width="2.1"/>
<line x1="418.95" y1="1452.1" x2="418.95" y2="1458.5" stroke="#111" stroke-width="1.5" />
<circle cx="424.48" cy="1464.5" r="3.25" fill="none" stroke="#111" stroke-width="2.1"/>
<line x1="424.48" y1="1461.3" x2="424.48" y2="1467.7" stroke="#111" stroke-width="1.5" />
<line x1="430.01" y1="1448" x2="430.01" y2="1460.1" stroke="#111" stroke-width="2.0" />
<circle cx="430.01" cy="1454.2" r="3.25" fill="none" stroke="#111" stroke-width="2.1"/>
<line x1="430.01" y1="1451" x2="430.01" y2="1457.4" stroke="#111" stroke-width="1.5" />
<circle cx="291.76" cy="1468.2" r="3.25" fill="none" stroke="#ea0c10" stroke-width="2.4"/>
<line x1="291.76" y1="1465" x2="291.76" y2="1471.4" stroke="#ea0c10" stroke-width="1.5" />
<line x1="330.47" y1="1457.3" x2="330.47" y2="1471.9" stroke="#ea0c10" stroke-width="2.0" />
<circle cx="330.47" cy="1464.4" r="3.25" fill="none" stroke="#ea0c10" stroke-width="2.4"/>
<line x1="330.47" y1="1461.2" x2="330.47" y2="1467.6" stroke="#ea0c10" stroke-width="1.5" />
<line x1="380.24" y1="1464.5" x2="380.24" y2="1477.5" stroke="#ea0c10" stroke-width="2.0" />
<circle cx="380.24" cy="1471.1" r="3.25" fill="none" stroke="#ea0c10" stroke-width="2.4"/>
<line x1="380.24" y1="1467.9" x2="380.24" y2="1474.3" stroke="#ea0c10" stroke-width="1.5" />
<circle cx="396.83" cy="1434.3" r="3.25" fill="none" stroke="#ea0c10" stroke-width="2.4"/>
<line x1="396.83" y1="1431.1" x2="396.83" y2="1437.5" stroke="#ea0c10" stroke-width="1.5" />
<line x1="413.42" y1="1373.3" x2="413.42" y2="1394.6" stroke="#ea0c10" stroke-width="2.0" />
<circle cx="413.42" cy="1383.9" r="3.25" fill="none" stroke="#ea0c10" stroke-width="2.4"/>
<line x1="413.42" y1="1380.7" x2="413.42" y2="1387.1" stroke="#ea0c10" stroke-width="1.5" />
<line x1="460.8" y1="1392.6" x2="460.8" y2="1486.1" stroke="#111" stroke-width="2.0" />
<circle cx="460.8" cy="1475.1" r="3.25" fill="none" stroke="#111" stroke-width="2.1"/>
<line x1="460.8" y1="1471.9" x2="460.8" y2="1478.3" stroke="#111" stroke-width="1.5" />
<line x1="466.32" y1="1416.5" x2="466.32" y2="1490" stroke="#111" stroke-width="2.0" />
<circle cx="466.32" cy="1487.5" r="3.25" fill="none" stroke="#111" stroke-width="2.1"/>
<line x1="466.32" y1="1484.3" x2="466.32" y2="1490.7" stroke="#111" stroke-width="1.5" />
<line x1="471.84" y1="1335.9" x2="471.84" y2="1486.8" stroke="#111" stroke-width="2.0" />
<circle cx="471.84" cy="1467" r="3.25" fill="none" stroke="#111" stroke-width="2.1"/>
<line x1="471.84" y1="1463.8" x2="471.84" y2="1470.2" stroke="#111" stroke-width="1.5" />
<line x1="477.36" y1="1251" x2="477.36" y2="1479.9" stroke="#111" stroke-width="2.0" />
<circle cx="477.36" cy="1460.9" r="3.25" fill="none" stroke="#111" stroke-width="2.1"/>
<line x1="477.36" y1="1457.7" x2="477.36" y2="1464.1" stroke="#111" stroke-width="1.5" />
<line x1="482.88" y1="1338.8" x2="482.88" y2="1446.5" stroke="#111" stroke-width="2.0" />
<circle cx="482.88" cy="1419.9" r="3.25" fill="none" stroke="#111" stroke-width="2.1"/>
<line x1="482.88" y1="1416.7" x2="482.88" y2="1423.1" stroke="#111" stroke-width="1.5" />
<line x1="488.4" y1="1399.9" x2="488.4" y2="1461.5" stroke="#111" stroke-width="2.0" />
<circle cx="488.4" cy="1430.8" r="3.25" fill="none" stroke="#111" stroke-width="2.1"/>
<line x1="488.4" y1="1427.6" x2="488.4" y2="1434" stroke="#111" stroke-width="1.5" />
<circle cx="493.92" cy="1478.5" r="3.25" fill="none" stroke="#111" stroke-width="2.1"/>
<line x1="493.92" y1="1475.3" x2="493.92" y2="1481.7" stroke="#111" stroke-width="1.5" />
<line x1="499.44" y1="1386.4" x2="499.44" y2="1445.8" stroke="#111" stroke-width="2.0" />
<circle cx="499.44" cy="1427.5" r="3.25" fill="none" stroke="#111" stroke-width="2.1"/>
<line x1="499.44" y1="1424.3" x2="499.44" y2="1430.7" stroke="#111" stroke-width="1.5" />
<line x1="504.96" y1="1264.1" x2="504.96" y2="1456.5" stroke="#111" stroke-width="2.0" />
<circle cx="504.96" cy="1388.4" r="3.25" fill="none" stroke="#111" stroke-width="2.1"/>
<line x1="504.96" y1="1385.2" x2="504.96" y2="1391.6" stroke="#111" stroke-width="1.5" />
<line x1="510.48" y1="1470" x2="510.48" y2="1488" stroke="#111" stroke-width="2.0" />
<circle cx="510.48" cy="1485.3" r="3.25" fill="none" stroke="#111" stroke-width="2.1"/>
<line x1="510.48" y1="1482.1" x2="510.48" y2="1488.5" stroke="#111" stroke-width="1.5" />
<line x1="521.52" y1="1467" x2="521.52" y2="1485" stroke="#111" stroke-width="2.0" />
<circle cx="521.52" cy="1482.1" r="3.25" fill="none" stroke="#111" stroke-width="2.1"/>
<line x1="521.52" y1="1478.9" x2="521.52" y2="1485.3" stroke="#111" stroke-width="1.5" />
<line x1="527.04" y1="1459" x2="527.04" y2="1472" stroke="#111" stroke-width="2.0" />
<circle cx="527.04" cy="1469.2" r="3.25" fill="none" stroke="#111" stroke-width="2.1"/>
<line x1="527.04" y1="1466" x2="527.04" y2="1472.4" stroke="#111" stroke-width="1.5" />
<line x1="532.56" y1="1352" x2="532.56" y2="1406.8" stroke="#111" stroke-width="2.0" />
<circle cx="532.56" cy="1386.3" r="3.25" fill="none" stroke="#111" stroke-width="2.1"/>
<line x1="532.56" y1="1383.1" x2="532.56" y2="1389.5" stroke="#111" stroke-width="1.5" />
<line x1="538.08" y1="1441" x2="538.08" y2="1477.3" stroke="#111" stroke-width="2.0" />
<circle cx="538.08" cy="1467.9" r="3.25" fill="none" stroke="#111" stroke-width="2.1"/>
<line x1="538.08" y1="1464.7" x2="538.08" y2="1471.1" stroke="#111" stroke-width="1.5" />
<circle cx="543.6" cy="1487.1" r="3.25" fill="none" stroke="#111" stroke-width="2.1"/>
<line x1="543.6" y1="1483.9" x2="543.6" y2="1490.3" stroke="#111" stroke-width="1.5" />
<line x1="549.12" y1="1477.5" x2="549.12" y2="1483" stroke="#111" stroke-width="2.0" />
<circle cx="549.12" cy="1481.1" r="3.25" fill="none" stroke="#111" stroke-width="2.1"/>
<line x1="549.12" y1="1477.9" x2="549.12" y2="1484.3" stroke="#111" stroke-width="1.5" />
<circle cx="554.64" cy="1478.2" r="3.25" fill="none" stroke="#111" stroke-width="2.1"/>
<line x1="554.64" y1="1475" x2="554.64" y2="1481.4" stroke="#111" stroke-width="1.5" />
<line x1="560.16" y1="1464.3" x2="560.16" y2="1474" stroke="#111" stroke-width="2.0" />
<circle cx="560.16" cy="1471.6" r="3.25" fill="none" stroke="#111" stroke-width="2.1"/>
<line x1="560.16" y1="1468.4" x2="560.16" y2="1474.8" stroke="#111" stroke-width="1.5" />
<line x1="571.2" y1="1319.8" x2="571.2" y2="1352.1" stroke="#111" stroke-width="2.0" />
<circle cx="571.2" cy="1339.9" r="3.25" fill="none" stroke="#111" stroke-width="2.1"/>
<line x1="571.2" y1="1336.7" x2="571.2" y2="1343.1" stroke="#111" stroke-width="1.5" />
<circle cx="576.72" cy="1483" r="3.25" fill="none" stroke="#111" stroke-width="2.1"/>
<line x1="576.72" y1="1479.8" x2="576.72" y2="1486.2" stroke="#111" stroke-width="1.5" />
<circle cx="582.24" cy="1490.4" r="3.25" fill="none" stroke="#111" stroke-width="2.1"/>
<line x1="582.24" y1="1487.2" x2="582.24" y2="1493.6" stroke="#111" stroke-width="1.5" />
<line x1="593.28" y1="1453.7" x2="593.28" y2="1467.9" stroke="#111" stroke-width="2.0" />
<circle cx="593.28" cy="1462.1" r="3.25" fill="none" stroke="#111" stroke-width="2.1"/>
<line x1="593.28" y1="1458.9" x2="593.28" y2="1465.3" stroke="#111" stroke-width="1.5" />
<line x1="598.8" y1="1415.1" x2="598.8" y2="1443" stroke="#111" stroke-width="2.0" />
<circle cx="598.8" cy="1434.9" r="3.25" fill="none" stroke="#111" stroke-width="2.1"/>
<line x1="598.8" y1="1431.7" x2="598.8" y2="1438.1" stroke="#111" stroke-width="1.5" />
<line x1="609.84" y1="1429.4" x2="609.84" y2="1444.5" stroke="#111" stroke-width="2.0" />
<circle cx="609.84" cy="1437.1" r="3.25" fill="none" stroke="#111" stroke-width="2.1"/>
<line x1="609.84" y1="1433.9" x2="609.84" y2="1440.3" stroke="#111" stroke-width="1.5" />
<circle cx="615.36" cy="1472.9" r="3.25" fill="none" stroke="#111" stroke-width="2.1"/>
<line x1="615.36" y1="1469.7" x2="615.36" y2="1476.1" stroke="#111" stroke-width="1.5" />
<circle cx="626.4" cy="1484.1" r="3.25" fill="none" stroke="#111" stroke-width="2.1"/>
<line x1="626.4" y1="1480.9" x2="626.4" y2="1487.3" stroke="#111" stroke-width="1.5" />
<circle cx="631.92" cy="1467.2" r="3.25" fill="none" stroke="#111" stroke-width="2.1"/>
<line x1="631.92" y1="1464" x2="631.92" y2="1470.4" stroke="#111" stroke-width="1.5" />
<line x1="637.44" y1="1444.5" x2="637.44" y2="1458.4" stroke="#111" stroke-width="2.0" />
<circle cx="637.44" cy="1451.2" r="3.25" fill="none" stroke="#111" stroke-width="2.1"/>
<line x1="637.44" y1="1448" x2="637.44" y2="1454.4" stroke="#111" stroke-width="1.5" />
<line x1="648.48" y1="1420.5" x2="648.48" y2="1442.2" stroke="#111" stroke-width="2.0" />
<circle cx="648.48" cy="1432.4" r="3.25" fill="none" stroke="#111" stroke-width="2.1"/>
<line x1="648.48" y1="1429.2" x2="648.48" y2="1435.6" stroke="#111" stroke-width="1.5" />
<line x1="654" y1="1402.6" x2="654" y2="1421.7" stroke="#111" stroke-width="2.0" />
<circle cx="654" cy="1412.6" r="3.25" fill="none" stroke="#111" stroke-width="2.1"/>
<line x1="654" y1="1409.4" x2="654" y2="1415.8" stroke="#111" stroke-width="1.5" />
<line x1="516" y1="1222.8" x2="516" y2="1486.1" stroke="#ea0c10" stroke-width="2.0" />
<circle cx="516" cy="1471.4" r="3.25" fill="none" stroke="#ea0c10" stroke-width="2.4"/>
<line x1="516" y1="1468.2" x2="516" y2="1474.6" stroke="#ea0c10" stroke-width="1.5" />
<line x1="565.68" y1="1447.4" x2="565.68" y2="1473.8" stroke="#ea0c10" stroke-width="2.0" />
<circle cx="565.68" cy="1467.9" r="3.25" fill="none" stroke="#ea0c10" stroke-width="2.4"/>
<line x1="565.68" y1="1464.7" x2="565.68" y2="1471.1" stroke="#ea0c10" stroke-width="1.5" />
<circle cx="587.76" cy="1480.7" r="3.25" fill="none" stroke="#ea0c10" stroke-width="2.4"/>
<line x1="587.76" y1="1477.5" x2="587.76" y2="1483.9" stroke="#ea0c10" stroke-width="1.5" />
<line x1="604.32" y1="1405.6" x2="604.32" y2="1434.9" stroke="#ea0c10" stroke-width="2.0" />
<circle cx="604.32" cy="1423.2" r="3.25" fill="none" stroke="#ea0c10" stroke-width="2.4"/>
<line x1="604.32" y1="1420" x2="604.32" y2="1426.4" stroke="#ea0c10" stroke-width="1.5" />
<line x1="620.88" y1="1459.9" x2="620.88" y2="1473.8" stroke="#ea0c10" stroke-width="2.0" />
<circle cx="620.88" cy="1469.8" r="3.25" fill="none" stroke="#ea0c10" stroke-width="2.4"/>
<line x1="620.88" y1="1466.6" x2="620.88" y2="1473" stroke="#ea0c10" stroke-width="1.5" />
<circle cx="642.96" cy="1467.2" r="3.25" fill="none" stroke="#ea0c10" stroke-width="2.4"/>
<line x1="642.96" y1="1464" x2="642.96" y2="1470.4" stroke="#ea0c10" stroke-width="1.5" />
<circle cx="684.8" cy="1453.2" r="3.25" fill="none" stroke="#111" stroke-width="2.1"/>
<line x1="684.8" y1="1450" x2="684.8" y2="1456.4" stroke="#111" stroke-width="1.5" />
<line x1="706.99" y1="1438.4" x2="706.99" y2="1449.1" stroke="#111" stroke-width="2.0" />
<circle cx="706.99" cy="1444.2" r="3.25" fill="none" stroke="#111" stroke-width="2.1"/>
<line x1="706.99" y1="1441" x2="706.99" y2="1447.4" stroke="#111" stroke-width="1.5" />
<circle cx="712.54" cy="1479.4" r="3.25" fill="none" stroke="#111" stroke-width="2.1"/>
<line x1="712.54" y1="1476.2" x2="712.54" y2="1482.6" stroke="#111" stroke-width="1.5" />
<circle cx="718.09" cy="1459.3" r="3.25" fill="none" stroke="#111" stroke-width="2.1"/>
<line x1="718.09" y1="1456.1" x2="718.09" y2="1462.5" stroke="#111" stroke-width="1.5" />
<circle cx="723.64" cy="1460.9" r="3.25" fill="none" stroke="#111" stroke-width="2.1"/>
<line x1="723.64" y1="1457.7" x2="723.64" y2="1464.1" stroke="#111" stroke-width="1.5" />
<circle cx="729.18" cy="1470.4" r="3.25" fill="none" stroke="#111" stroke-width="2.1"/>
<line x1="729.18" y1="1467.2" x2="729.18" y2="1473.6" stroke="#111" stroke-width="1.5" />
<circle cx="734.73" cy="1460.6" r="3.25" fill="none" stroke="#111" stroke-width="2.1"/>
<line x1="734.73" y1="1457.4" x2="734.73" y2="1463.8" stroke="#111" stroke-width="1.5" />
<circle cx="740.28" cy="1454" r="3.25" fill="none" stroke="#111" stroke-width="2.1"/>
<line x1="740.28" y1="1450.8" x2="740.28" y2="1457.2" stroke="#111" stroke-width="1.5" />
<circle cx="745.83" cy="1474.9" r="3.25" fill="none" stroke="#111" stroke-width="2.1"/>
<line x1="745.83" y1="1471.7" x2="745.83" y2="1478.1" stroke="#111" stroke-width="1.5" />
<circle cx="756.92" cy="1468.4" r="3.25" fill="none" stroke="#111" stroke-width="2.1"/>
<line x1="756.92" y1="1465.2" x2="756.92" y2="1471.6" stroke="#111" stroke-width="1.5" />
<circle cx="779.12" cy="1457" r="3.25" fill="none" stroke="#111" stroke-width="2.1"/>
<line x1="779.12" y1="1453.8" x2="779.12" y2="1460.2" stroke="#111" stroke-width="1.5" />
<circle cx="801.31" cy="1460.9" r="3.25" fill="none" stroke="#111" stroke-width="2.1"/>
<line x1="801.31" y1="1457.7" x2="801.31" y2="1464.1" stroke="#111" stroke-width="1.5" />
<circle cx="690.35" cy="1482.4" r="3.25" fill="none" stroke="#ea0c10" stroke-width="2.4"/>
<line x1="690.35" y1="1479.2" x2="690.35" y2="1485.6" stroke="#ea0c10" stroke-width="1.5" />
<line x1="695.9" y1="1432.3" x2="695.9" y2="1443.3" stroke="#ea0c10" stroke-width="2.0" />
<circle cx="695.9" cy="1438.4" r="3.25" fill="none" stroke="#ea0c10" stroke-width="2.4"/>
<line x1="695.9" y1="1435.2" x2="695.9" y2="1441.6" stroke="#ea0c10" stroke-width="1.5" />
<circle cx="701.44" cy="1477.5" r="3.25" fill="none" stroke="#ea0c10" stroke-width="2.4"/>
<line x1="701.44" y1="1474.3" x2="701.44" y2="1480.7" stroke="#ea0c10" stroke-width="1.5" />
<circle cx="751.38" cy="1472.6" r="3.25" fill="none" stroke="#ea0c10" stroke-width="2.4"/>
<line x1="751.38" y1="1469.4" x2="751.38" y2="1475.8" stroke="#ea0c10" stroke-width="1.5" />
<circle cx="762.47" cy="1444.7" r="3.25" fill="none" stroke="#ea0c10" stroke-width="2.4"/>
<line x1="762.47" y1="1441.5" x2="762.47" y2="1447.9" stroke="#ea0c10" stroke-width="1.5" />
<circle cx="768.02" cy="1454.3" r="3.25" fill="none" stroke="#ea0c10" stroke-width="2.4"/>
<line x1="768.02" y1="1451.1" x2="768.02" y2="1457.5" stroke="#ea0c10" stroke-width="1.5" />
<circle cx="773.57" cy="1416.3" r="3.25" fill="none" stroke="#ea0c10" stroke-width="2.4"/>
<line x1="773.57" y1="1413.1" x2="773.57" y2="1419.5" stroke="#ea0c10" stroke-width="1.5" />
<circle cx="784.66" cy="1457.3" r="3.25" fill="none" stroke="#ea0c10" stroke-width="2.4"/>
<line x1="784.66" y1="1454.1" x2="784.66" y2="1460.5" stroke="#ea0c10" stroke-width="1.5" />
<circle cx="790.21" cy="1470.4" r="3.25" fill="none" stroke="#ea0c10" stroke-width="2.4"/>
<line x1="790.21" y1="1467.2" x2="790.21" y2="1473.6" stroke="#ea0c10" stroke-width="1.5" />
<circle cx="795.76" cy="1450.4" r="3.25" fill="none" stroke="#ea0c10" stroke-width="2.4"/>
<line x1="795.76" y1="1447.2" x2="795.76" y2="1453.6" stroke="#ea0c10" stroke-width="1.5" />
<rect x="722.1" y="1098.6" width="190.2" height="246.8" fill="#fff" stroke="#0a0a0a" stroke-width="2.3" />
<line x1="715.9" y1="1344.5" x2="722.1" y2="1344.5" stroke="#111" stroke-width="1.5" />
<text x="711.6" y="1352.1" font-size="20.8" text-anchor="end" fill="#111" font-weight="normal"  style="">0</text>
<line x1="715.9" y1="1298.2" x2="722.1" y2="1298.2" stroke="#111" stroke-width="1.5" />
<text x="711.6" y="1305.8" font-size="20.8" text-anchor="end" fill="#111" font-weight="normal"  style="">20</text>
<line x1="715.9" y1="1251.9" x2="722.1" y2="1251.9" stroke="#111" stroke-width="1.5" />
<text x="711.6" y="1259.5" font-size="20.8" text-anchor="end" fill="#111" font-weight="normal"  style="">40</text>
<line x1="715.9" y1="1205.6" x2="722.1" y2="1205.6" stroke="#111" stroke-width="1.5" />
<text x="711.6" y="1213.2" font-size="20.8" text-anchor="end" fill="#111" font-weight="normal"  style="">60</text>
<line x1="715.9" y1="1159.3" x2="722.1" y2="1159.3" stroke="#111" stroke-width="1.5" />
<text x="711.6" y="1166.9" font-size="20.8" text-anchor="end" fill="#111" font-weight="normal"  style="">80</text>
<line x1="715.9" y1="1113" x2="722.1" y2="1113" stroke="#111" stroke-width="1.5" />
<text x="711.6" y="1120.6" font-size="20.8" text-anchor="end" fill="#111" font-weight="normal"  style="">100</text>
<line x1="734.1" y1="1345.4" x2="734.1" y2="1351.9" stroke="#111" stroke-width="1.4" />
<line x1="742.04" y1="1345.4" x2="742.04" y2="1351.9" stroke="#111" stroke-width="1.4" />
<line x1="749.98" y1="1345.4" x2="749.98" y2="1351.9" stroke="#111" stroke-width="1.4" />
<line x1="757.92" y1="1345.4" x2="757.92" y2="1351.9" stroke="#111" stroke-width="1.4" />
<line x1="765.86" y1="1345.4" x2="765.86" y2="1351.9" stroke="#111" stroke-width="1.4" />
<line x1="773.8" y1="1345.4" x2="773.8" y2="1351.9" stroke="#111" stroke-width="1.4" />
<line x1="781.74" y1="1345.4" x2="781.74" y2="1351.9" stroke="#111" stroke-width="1.4" />
<line x1="789.68" y1="1345.4" x2="789.68" y2="1351.9" stroke="#111" stroke-width="1.4" />
<line x1="797.62" y1="1345.4" x2="797.62" y2="1351.9" stroke="#111" stroke-width="1.4" />
<line x1="805.56" y1="1345.4" x2="805.56" y2="1351.9" stroke="#111" stroke-width="1.4" />
<line x1="813.5" y1="1345.4" x2="813.5" y2="1351.9" stroke="#111" stroke-width="1.4" />
<line x1="821.44" y1="1345.4" x2="821.44" y2="1351.9" stroke="#111" stroke-width="1.4" />
<line x1="829.38" y1="1345.4" x2="829.38" y2="1351.9" stroke="#111" stroke-width="1.4" />
<line x1="837.32" y1="1345.4" x2="837.32" y2="1351.9" stroke="#111" stroke-width="1.4" />
<line x1="845.26" y1="1345.4" x2="845.26" y2="1351.9" stroke="#111" stroke-width="1.4" />
<line x1="853.2" y1="1345.4" x2="853.2" y2="1351.9" stroke="#111" stroke-width="1.4" />
<line x1="861.14" y1="1345.4" x2="861.14" y2="1351.9" stroke="#111" stroke-width="1.4" />
<line x1="869.08" y1="1345.4" x2="869.08" y2="1351.9" stroke="#111" stroke-width="1.4" />
<line x1="877.02" y1="1345.4" x2="877.02" y2="1351.9" stroke="#111" stroke-width="1.4" />
<line x1="884.96" y1="1345.4" x2="884.96" y2="1351.9" stroke="#111" stroke-width="1.4" />
<line x1="892.9" y1="1345.4" x2="892.9" y2="1351.9" stroke="#111" stroke-width="1.4" />
<line x1="900.84" y1="1345.4" x2="900.84" y2="1351.9" stroke="#111" stroke-width="1.4" />
<line x1="734.1" y1="1105.5" x2="734.1" y2="1123.9" stroke="#ea0c10" stroke-width="1.8" />
<circle cx="734.1" cy="1114.6" r="2.8" fill="#ea0c10" stroke="none" stroke-width="0"/>
<line x1="742.04" y1="1162.1" x2="742.04" y2="1196" stroke="#ea0c10" stroke-width="1.8" />
<circle cx="742.04" cy="1180.2" r="2.8" fill="#ea0c10" stroke="none" stroke-width="0"/>
<line x1="749.98" y1="1180.8" x2="749.98" y2="1213.3" stroke="#111" stroke-width="1.8" />
<circle cx="749.98" cy="1197.6" r="2.8" fill="#111" stroke="none" stroke-width="0"/>
<line x1="757.92" y1="1188.8" x2="757.92" y2="1210.1" stroke="#ea0c10" stroke-width="1.8" />
<circle cx="757.92" cy="1199.5" r="2.8" fill="#ea0c10" stroke="none" stroke-width="0"/>
<line x1="765.86" y1="1211.4" x2="765.86" y2="1222.1" stroke="#ea0c10" stroke-width="1.8" />
<circle cx="765.86" cy="1216.8" r="2.8" fill="#ea0c10" stroke="none" stroke-width="0"/>
<line x1="773.8" y1="1217.6" x2="773.8" y2="1231.5" stroke="#111" stroke-width="1.8" />
<circle cx="773.8" cy="1225.3" r="2.8" fill="#111" stroke="none" stroke-width="0"/>
<line x1="781.74" y1="1220.3" x2="781.74" y2="1236.3" stroke="#111" stroke-width="1.8" />
<circle cx="781.74" cy="1228" r="2.8" fill="#111" stroke="none" stroke-width="0"/>
<line x1="789.68" y1="1221.3" x2="789.68" y2="1236.8" stroke="#ea0c10" stroke-width="1.8" />
<circle cx="789.68" cy="1228.8" r="2.8" fill="#ea0c10" stroke="none" stroke-width="0"/>
<line x1="797.62" y1="1230.7" x2="797.62" y2="1240.8" stroke="#111" stroke-width="1.8" />
<circle cx="797.62" cy="1235.5" r="2.8" fill="#111" stroke="none" stroke-width="0"/>
<line x1="805.56" y1="1232.5" x2="805.56" y2="1241.5" stroke="#ea0c10" stroke-width="1.8" />
<circle cx="805.56" cy="1237.6" r="2.8" fill="#ea0c10" stroke="none" stroke-width="0"/>
<line x1="813.5" y1="1240" x2="813.5" y2="1247" stroke="#111" stroke-width="1.8" />
<circle cx="813.5" cy="1243.5" r="2.8" fill="#111" stroke="none" stroke-width="0"/>
<line x1="821.44" y1="1241.6" x2="821.44" y2="1252.8" stroke="#111" stroke-width="1.8" />
<circle cx="821.44" cy="1247" r="2.8" fill="#111" stroke="none" stroke-width="0"/>
<line x1="829.38" y1="1240" x2="829.38" y2="1255" stroke="#111" stroke-width="1.8" />
<circle cx="829.38" cy="1248" r="2.8" fill="#111" stroke="none" stroke-width="0"/>
<circle cx="837.32" cy="1248" r="2.8" fill="#111" stroke="none" stroke-width="0"/>
<line x1="845.26" y1="1265.7" x2="845.26" y2="1278.2" stroke="#111" stroke-width="1.8" />
<circle cx="845.26" cy="1271.5" r="2.8" fill="#111" stroke="none" stroke-width="0"/>
<circle cx="853.2" cy="1276.9" r="2.8" fill="#ea0c10" stroke="none" stroke-width="0"/>
<line x1="861.14" y1="1275" x2="861.14" y2="1280.5" stroke="#111" stroke-width="1.8" />
<circle cx="861.14" cy="1277.7" r="2.8" fill="#111" stroke="none" stroke-width="0"/>
<line x1="869.08" y1="1279.5" x2="869.08" y2="1286.5" stroke="#ea0c10" stroke-width="1.8" />
<circle cx="869.08" cy="1283" r="2.8" fill="#ea0c10" stroke="none" stroke-width="0"/>
<circle cx="877.02" cy="1290.2" r="2.8" fill="#111" stroke="none" stroke-width="0"/>
<line x1="884.96" y1="1294.2" x2="884.96" y2="1302.2" stroke="#ea0c10" stroke-width="1.8" />
<circle cx="884.96" cy="1298.2" r="2.8" fill="#ea0c10" stroke="none" stroke-width="0"/>
<circle cx="892.9" cy="1304.4" r="2.8" fill="#111" stroke="none" stroke-width="0"/>
<circle cx="900.84" cy="1312.4" r="2.8" fill="#ea0c10" stroke="none" stroke-width="0"/>
<circle cx="183.1" cy="1553.9" r="6" fill="none" stroke="#ea0c10" stroke-width="1.5"/>
<line x1="183.1" y1="1542" x2="183.1" y2="1565.2" stroke="#ea0c10" stroke-width="1.5" />
<text x="198.8" y="1562.5" font-size="24.7" text-anchor="start" fill="#ea0c10" font-weight="normal"  style="">Discovery (n=21)</text>
<circle cx="411.5" cy="1553.9" r="6" fill="none" stroke="#111" stroke-width="1.5"/>
<line x1="411.5" y1="1542" x2="411.5" y2="1565.2" stroke="#111" stroke-width="1.5" />
<text x="425.3" y="1562.5" font-size="24.7" text-anchor="start" fill="#111" font-weight="normal"  style="">Extension (n=85)</text>
</svg></body></html>
